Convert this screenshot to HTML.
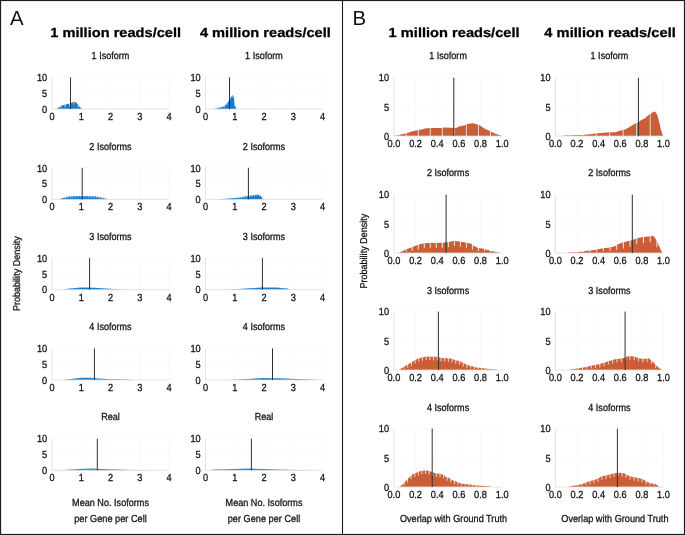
<!DOCTYPE html><html><head><meta charset="utf-8"><style>html,body{margin:0;padding:0;background:#fff;}svg{display:block;will-change:transform;}text{font-family:"Liberation Sans",sans-serif;}</style></head><body>
<svg width="685" height="535" viewBox="0 0 685 535">
<rect x="0" y="0" width="685" height="535" fill="#fff"/>
<line x1="81.25" y1="77.5" x2="81.25" y2="109.1" stroke="#f7f7f7" stroke-width="0.8"/>
<line x1="110.5" y1="77.5" x2="110.5" y2="109.1" stroke="#f7f7f7" stroke-width="0.8"/>
<line x1="139.75" y1="77.5" x2="139.75" y2="109.1" stroke="#f7f7f7" stroke-width="0.8"/>
<line x1="169" y1="77.5" x2="169" y2="109.1" stroke="#f7f7f7" stroke-width="0.8"/>
<line x1="52" y1="93.3" x2="169" y2="93.3" stroke="#f7f7f7" stroke-width="0.8"/>
<line x1="52" y1="77.5" x2="169" y2="77.5" stroke="#f7f7f7" stroke-width="0.8"/>
<path d="M56.7 109.1 L56.7 109.1 L58.8 107.6 L61.7 105.6 L64 105 L67.5 104.1 L70.1 103.6 L72.2 102.4 L74 101.8 L75.7 102.1 L77.4 104.1 L79.2 106.2 L81.5 108.7 L82.2 109.1 L82.2 109.1 Z" fill="#1479d0"/>
<line x1="60.8" y1="105.92" x2="60.8" y2="107.95" stroke="#fff" stroke-width="1" stroke-opacity="0.6"/>
<line x1="65.2" y1="104.39" x2="65.2" y2="107.34" stroke="#fff" stroke-width="1" stroke-opacity="0.6"/>
<line x1="69.6" y1="103.4" x2="69.6" y2="106.7" stroke="#fff" stroke-width="1" stroke-opacity="0.6"/>
<line x1="74" y1="101.5" x2="74" y2="104.8" stroke="#fff" stroke-width="1" stroke-opacity="0.6"/>
<line x1="78.4" y1="104.97" x2="78.4" y2="107.57" stroke="#fff" stroke-width="1" stroke-opacity="0.6"/>
<line x1="52" y1="77.5" x2="52" y2="109.1" stroke="#e0e0e0" stroke-width="0.9"/>
<line x1="52" y1="109.1" x2="169" y2="109.1" stroke="#e0e0e0" stroke-width="0.9"/>
<line x1="70.5" y1="77.5" x2="70.5" y2="109.1" stroke="#2e2e2e" stroke-width="1.0"/>
<text transform="translate(52 120.1) skewX(0.3) scale(0.9 1)" font-size="10.3" text-anchor="middle" font-weight="normal" fill="#111" stroke="#111" stroke-width="0.28">0</text>
<text transform="translate(81.25 120.1) skewX(0.3) scale(0.9 1)" font-size="10.3" text-anchor="middle" font-weight="normal" fill="#111" stroke="#111" stroke-width="0.28">1</text>
<text transform="translate(110.5 120.1) skewX(0.3) scale(0.9 1)" font-size="10.3" text-anchor="middle" font-weight="normal" fill="#111" stroke="#111" stroke-width="0.28">2</text>
<text transform="translate(139.75 120.1) skewX(0.3) scale(0.9 1)" font-size="10.3" text-anchor="middle" font-weight="normal" fill="#111" stroke="#111" stroke-width="0.28">3</text>
<text transform="translate(169 120.1) skewX(0.3) scale(0.9 1)" font-size="10.3" text-anchor="middle" font-weight="normal" fill="#111" stroke="#111" stroke-width="0.28">4</text>
<text transform="translate(47.2 112.8) skewX(0.3) scale(0.9 1)" font-size="10.3" text-anchor="end" font-weight="normal" fill="#111" stroke="#111" stroke-width="0.28">0</text>
<text transform="translate(47.2 97) skewX(0.3) scale(0.9 1)" font-size="10.3" text-anchor="end" font-weight="normal" fill="#111" stroke="#111" stroke-width="0.28">5</text>
<text transform="translate(47.2 81.2) skewX(0.3) scale(0.9 1)" font-size="10.3" text-anchor="end" font-weight="normal" fill="#111" stroke="#111" stroke-width="0.28">10</text>
<text transform="translate(110.5 59.2) skewX(0.3) scale(0.89 1)" font-size="10.2" text-anchor="middle" font-weight="normal" fill="#111" stroke="#111" stroke-width="0.28">1 Isoform</text>
<line x1="234.75" y1="77.5" x2="234.75" y2="109.1" stroke="#f7f7f7" stroke-width="0.8"/>
<line x1="264" y1="77.5" x2="264" y2="109.1" stroke="#f7f7f7" stroke-width="0.8"/>
<line x1="293.25" y1="77.5" x2="293.25" y2="109.1" stroke="#f7f7f7" stroke-width="0.8"/>
<line x1="322.5" y1="77.5" x2="322.5" y2="109.1" stroke="#f7f7f7" stroke-width="0.8"/>
<line x1="205.5" y1="93.3" x2="322.5" y2="93.3" stroke="#f7f7f7" stroke-width="0.8"/>
<line x1="205.5" y1="77.5" x2="322.5" y2="77.5" stroke="#f7f7f7" stroke-width="0.8"/>
<path d="M212.5 109.1 L212.5 109.1 L216.2 108.4 L220 107.5 L223.7 106.55 L225.9 104.7 L228.2 101.7 L229.7 100.2 L230.8 97.6 L231.9 95.7 L232.7 95.1 L233.8 97.2 L234.5 103.9 L235.6 106.9 L236.8 109.1 L236.8 109.1 Z" fill="#1479d0"/>
<line x1="221.8" y1="106.74" x2="221.8" y2="108.28" stroke="#fff" stroke-width="1" stroke-opacity="0.5"/>
<line x1="224.4" y1="105.66" x2="224.4" y2="107.84" stroke="#fff" stroke-width="1" stroke-opacity="0.5"/>
<line x1="227" y1="102.97" x2="227" y2="105.27" stroke="#fff" stroke-width="1" stroke-opacity="0.5"/>
<line x1="229.6" y1="100" x2="229.6" y2="102.3" stroke="#fff" stroke-width="1" stroke-opacity="0.5"/>
<line x1="232.2" y1="95.18" x2="232.2" y2="97.48" stroke="#fff" stroke-width="1" stroke-opacity="0.5"/>
<line x1="234.8" y1="104.42" x2="234.8" y2="106.72" stroke="#fff" stroke-width="1" stroke-opacity="0.5"/>
<line x1="205.5" y1="77.5" x2="205.5" y2="109.1" stroke="#e0e0e0" stroke-width="0.9"/>
<line x1="205.5" y1="109.1" x2="322.5" y2="109.1" stroke="#e0e0e0" stroke-width="0.9"/>
<line x1="229.5" y1="77.5" x2="229.5" y2="109.1" stroke="#2e2e2e" stroke-width="1.0"/>
<text transform="translate(205.5 120.1) skewX(0.3) scale(0.9 1)" font-size="10.3" text-anchor="middle" font-weight="normal" fill="#111" stroke="#111" stroke-width="0.28">0</text>
<text transform="translate(234.75 120.1) skewX(0.3) scale(0.9 1)" font-size="10.3" text-anchor="middle" font-weight="normal" fill="#111" stroke="#111" stroke-width="0.28">1</text>
<text transform="translate(264 120.1) skewX(0.3) scale(0.9 1)" font-size="10.3" text-anchor="middle" font-weight="normal" fill="#111" stroke="#111" stroke-width="0.28">2</text>
<text transform="translate(293.25 120.1) skewX(0.3) scale(0.9 1)" font-size="10.3" text-anchor="middle" font-weight="normal" fill="#111" stroke="#111" stroke-width="0.28">3</text>
<text transform="translate(322.5 120.1) skewX(0.3) scale(0.9 1)" font-size="10.3" text-anchor="middle" font-weight="normal" fill="#111" stroke="#111" stroke-width="0.28">4</text>
<text transform="translate(200.7 112.8) skewX(0.3) scale(0.9 1)" font-size="10.3" text-anchor="end" font-weight="normal" fill="#111" stroke="#111" stroke-width="0.28">0</text>
<text transform="translate(200.7 97) skewX(0.3) scale(0.9 1)" font-size="10.3" text-anchor="end" font-weight="normal" fill="#111" stroke="#111" stroke-width="0.28">5</text>
<text transform="translate(200.7 81.2) skewX(0.3) scale(0.9 1)" font-size="10.3" text-anchor="end" font-weight="normal" fill="#111" stroke="#111" stroke-width="0.28">10</text>
<text transform="translate(264 59.2) skewX(0.3) scale(0.89 1)" font-size="10.2" text-anchor="middle" font-weight="normal" fill="#111" stroke="#111" stroke-width="0.28">1 Isoform</text>
<line x1="81.25" y1="167.8" x2="81.25" y2="199.4" stroke="#f7f7f7" stroke-width="0.8"/>
<line x1="110.5" y1="167.8" x2="110.5" y2="199.4" stroke="#f7f7f7" stroke-width="0.8"/>
<line x1="139.75" y1="167.8" x2="139.75" y2="199.4" stroke="#f7f7f7" stroke-width="0.8"/>
<line x1="169" y1="167.8" x2="169" y2="199.4" stroke="#f7f7f7" stroke-width="0.8"/>
<line x1="52" y1="183.6" x2="169" y2="183.6" stroke="#f7f7f7" stroke-width="0.8"/>
<line x1="52" y1="167.8" x2="169" y2="167.8" stroke="#f7f7f7" stroke-width="0.8"/>
<path d="M58.7 199.4 L58.7 199.4 L63.3 197.9 L68.4 196.4 L75 196 L85 195.9 L95 196.3 L100 197.2 L105 198.4 L110 199.4 L110 199.4 Z" fill="#1479d0"/>
<line x1="65.2" y1="197.04" x2="65.2" y2="198.58" stroke="#fff" stroke-width="1" stroke-opacity="0.6"/>
<line x1="67.8" y1="196.28" x2="67.8" y2="198.18" stroke="#fff" stroke-width="1" stroke-opacity="0.6"/>
<line x1="70.4" y1="195.98" x2="70.4" y2="197.88" stroke="#fff" stroke-width="1" stroke-opacity="0.6"/>
<line x1="73" y1="195.82" x2="73" y2="197.72" stroke="#fff" stroke-width="1" stroke-opacity="0.6"/>
<line x1="75.6" y1="195.69" x2="75.6" y2="197.59" stroke="#fff" stroke-width="1" stroke-opacity="0.6"/>
<line x1="78.2" y1="195.67" x2="78.2" y2="197.57" stroke="#fff" stroke-width="1" stroke-opacity="0.6"/>
<line x1="80.8" y1="195.64" x2="80.8" y2="197.54" stroke="#fff" stroke-width="1" stroke-opacity="0.6"/>
<line x1="83.4" y1="195.62" x2="83.4" y2="197.52" stroke="#fff" stroke-width="1" stroke-opacity="0.6"/>
<line x1="86" y1="195.64" x2="86" y2="197.54" stroke="#fff" stroke-width="1" stroke-opacity="0.6"/>
<line x1="88.6" y1="195.74" x2="88.6" y2="197.64" stroke="#fff" stroke-width="1" stroke-opacity="0.6"/>
<line x1="91.2" y1="195.85" x2="91.2" y2="197.75" stroke="#fff" stroke-width="1" stroke-opacity="0.6"/>
<line x1="93.8" y1="195.95" x2="93.8" y2="197.85" stroke="#fff" stroke-width="1" stroke-opacity="0.6"/>
<line x1="96.4" y1="196.25" x2="96.4" y2="198.15" stroke="#fff" stroke-width="1" stroke-opacity="0.6"/>
<line x1="99" y1="196.72" x2="99" y2="198.45" stroke="#fff" stroke-width="1" stroke-opacity="0.6"/>
<line x1="101.6" y1="197.28" x2="101.6" y2="198.67" stroke="#fff" stroke-width="1" stroke-opacity="0.6"/>
<line x1="52" y1="167.8" x2="52" y2="199.4" stroke="#e0e0e0" stroke-width="0.9"/>
<line x1="52" y1="199.4" x2="169" y2="199.4" stroke="#e0e0e0" stroke-width="0.9"/>
<line x1="82.2" y1="167.8" x2="82.2" y2="199.4" stroke="#2e2e2e" stroke-width="1.0"/>
<text transform="translate(52 210.4) skewX(0.3) scale(0.9 1)" font-size="10.3" text-anchor="middle" font-weight="normal" fill="#111" stroke="#111" stroke-width="0.28">0</text>
<text transform="translate(81.25 210.4) skewX(0.3) scale(0.9 1)" font-size="10.3" text-anchor="middle" font-weight="normal" fill="#111" stroke="#111" stroke-width="0.28">1</text>
<text transform="translate(110.5 210.4) skewX(0.3) scale(0.9 1)" font-size="10.3" text-anchor="middle" font-weight="normal" fill="#111" stroke="#111" stroke-width="0.28">2</text>
<text transform="translate(139.75 210.4) skewX(0.3) scale(0.9 1)" font-size="10.3" text-anchor="middle" font-weight="normal" fill="#111" stroke="#111" stroke-width="0.28">3</text>
<text transform="translate(169 210.4) skewX(0.3) scale(0.9 1)" font-size="10.3" text-anchor="middle" font-weight="normal" fill="#111" stroke="#111" stroke-width="0.28">4</text>
<text transform="translate(47.2 203.1) skewX(0.3) scale(0.9 1)" font-size="10.3" text-anchor="end" font-weight="normal" fill="#111" stroke="#111" stroke-width="0.28">0</text>
<text transform="translate(47.2 187.3) skewX(0.3) scale(0.9 1)" font-size="10.3" text-anchor="end" font-weight="normal" fill="#111" stroke="#111" stroke-width="0.28">5</text>
<text transform="translate(47.2 171.5) skewX(0.3) scale(0.9 1)" font-size="10.3" text-anchor="end" font-weight="normal" fill="#111" stroke="#111" stroke-width="0.28">10</text>
<text transform="translate(110.5 149.5) skewX(0.3) scale(0.89 1)" font-size="10.2" text-anchor="middle" font-weight="normal" fill="#111" stroke="#111" stroke-width="0.28">2 Isoforms</text>
<line x1="234.75" y1="167.8" x2="234.75" y2="199.4" stroke="#f7f7f7" stroke-width="0.8"/>
<line x1="264" y1="167.8" x2="264" y2="199.4" stroke="#f7f7f7" stroke-width="0.8"/>
<line x1="293.25" y1="167.8" x2="293.25" y2="199.4" stroke="#f7f7f7" stroke-width="0.8"/>
<line x1="322.5" y1="167.8" x2="322.5" y2="199.4" stroke="#f7f7f7" stroke-width="0.8"/>
<line x1="205.5" y1="183.6" x2="322.5" y2="183.6" stroke="#f7f7f7" stroke-width="0.8"/>
<line x1="205.5" y1="167.8" x2="322.5" y2="167.8" stroke="#f7f7f7" stroke-width="0.8"/>
<path d="M216.2 199.4 L216.2 199.4 L225.4 198.8 L235.7 198.1 L240.8 197.2 L245.9 196.2 L251 195.4 L256.1 194.7 L258.1 194.4 L260.5 195.4 L263.2 199.4 L263.2 199.4 Z" fill="#1479d0"/>
<line x1="238.8" y1="197.25" x2="238.8" y2="198.66" stroke="#fff" stroke-width="1" stroke-opacity="0.6"/>
<line x1="241.4" y1="196.78" x2="241.4" y2="198.47" stroke="#fff" stroke-width="1" stroke-opacity="0.6"/>
<line x1="244" y1="196.27" x2="244" y2="198.17" stroke="#fff" stroke-width="1" stroke-opacity="0.6"/>
<line x1="246.6" y1="195.79" x2="246.6" y2="197.69" stroke="#fff" stroke-width="1" stroke-opacity="0.6"/>
<line x1="249.2" y1="195.38" x2="249.2" y2="197.28" stroke="#fff" stroke-width="1" stroke-opacity="0.6"/>
<line x1="251.8" y1="194.99" x2="251.8" y2="196.89" stroke="#fff" stroke-width="1" stroke-opacity="0.6"/>
<line x1="254.4" y1="194.63" x2="254.4" y2="196.53" stroke="#fff" stroke-width="1" stroke-opacity="0.6"/>
<line x1="257" y1="194.27" x2="257" y2="196.17" stroke="#fff" stroke-width="1" stroke-opacity="0.6"/>
<line x1="259.6" y1="194.72" x2="259.6" y2="196.62" stroke="#fff" stroke-width="1" stroke-opacity="0.6"/>
<line x1="205.5" y1="167.8" x2="205.5" y2="199.4" stroke="#e0e0e0" stroke-width="0.9"/>
<line x1="205.5" y1="199.4" x2="322.5" y2="199.4" stroke="#e0e0e0" stroke-width="0.9"/>
<line x1="248.4" y1="167.8" x2="248.4" y2="199.4" stroke="#2e2e2e" stroke-width="1.0"/>
<text transform="translate(205.5 210.4) skewX(0.3) scale(0.9 1)" font-size="10.3" text-anchor="middle" font-weight="normal" fill="#111" stroke="#111" stroke-width="0.28">0</text>
<text transform="translate(234.75 210.4) skewX(0.3) scale(0.9 1)" font-size="10.3" text-anchor="middle" font-weight="normal" fill="#111" stroke="#111" stroke-width="0.28">1</text>
<text transform="translate(264 210.4) skewX(0.3) scale(0.9 1)" font-size="10.3" text-anchor="middle" font-weight="normal" fill="#111" stroke="#111" stroke-width="0.28">2</text>
<text transform="translate(293.25 210.4) skewX(0.3) scale(0.9 1)" font-size="10.3" text-anchor="middle" font-weight="normal" fill="#111" stroke="#111" stroke-width="0.28">3</text>
<text transform="translate(322.5 210.4) skewX(0.3) scale(0.9 1)" font-size="10.3" text-anchor="middle" font-weight="normal" fill="#111" stroke="#111" stroke-width="0.28">4</text>
<text transform="translate(200.7 203.1) skewX(0.3) scale(0.9 1)" font-size="10.3" text-anchor="end" font-weight="normal" fill="#111" stroke="#111" stroke-width="0.28">0</text>
<text transform="translate(200.7 187.3) skewX(0.3) scale(0.9 1)" font-size="10.3" text-anchor="end" font-weight="normal" fill="#111" stroke="#111" stroke-width="0.28">5</text>
<text transform="translate(200.7 171.5) skewX(0.3) scale(0.9 1)" font-size="10.3" text-anchor="end" font-weight="normal" fill="#111" stroke="#111" stroke-width="0.28">10</text>
<text transform="translate(264 149.5) skewX(0.3) scale(0.89 1)" font-size="10.2" text-anchor="middle" font-weight="normal" fill="#111" stroke="#111" stroke-width="0.28">2 Isoforms</text>
<line x1="81.25" y1="258.1" x2="81.25" y2="289.7" stroke="#f7f7f7" stroke-width="0.8"/>
<line x1="110.5" y1="258.1" x2="110.5" y2="289.7" stroke="#f7f7f7" stroke-width="0.8"/>
<line x1="139.75" y1="258.1" x2="139.75" y2="289.7" stroke="#f7f7f7" stroke-width="0.8"/>
<line x1="169" y1="258.1" x2="169" y2="289.7" stroke="#f7f7f7" stroke-width="0.8"/>
<line x1="52" y1="273.9" x2="169" y2="273.9" stroke="#f7f7f7" stroke-width="0.8"/>
<line x1="52" y1="258.1" x2="169" y2="258.1" stroke="#f7f7f7" stroke-width="0.8"/>
<path d="M61.9 289.7 L61.9 289.7 L69.5 288.4 L75.4 287.9 L81.2 287.4 L89.4 287.4 L98.7 287.9 L104.6 288.4 L110.4 288.8 L117.4 289.2 L126.8 289.7 L126.8 289.7 Z" fill="#1479d0"/>
<line x1="72.4" y1="287.85" x2="72.4" y2="288.95" stroke="#fff" stroke-width="1" stroke-opacity="0.25"/>
<line x1="75" y1="287.63" x2="75" y2="288.73" stroke="#fff" stroke-width="1" stroke-opacity="0.25"/>
<line x1="77.6" y1="287.41" x2="77.6" y2="288.51" stroke="#fff" stroke-width="1" stroke-opacity="0.25"/>
<line x1="80.2" y1="287.19" x2="80.2" y2="288.29" stroke="#fff" stroke-width="1" stroke-opacity="0.25"/>
<line x1="82.8" y1="287.1" x2="82.8" y2="288.2" stroke="#fff" stroke-width="1" stroke-opacity="0.25"/>
<line x1="85.4" y1="287.1" x2="85.4" y2="288.2" stroke="#fff" stroke-width="1" stroke-opacity="0.25"/>
<line x1="88" y1="287.1" x2="88" y2="288.2" stroke="#fff" stroke-width="1" stroke-opacity="0.25"/>
<line x1="90.6" y1="287.16" x2="90.6" y2="288.26" stroke="#fff" stroke-width="1" stroke-opacity="0.25"/>
<line x1="93.2" y1="287.3" x2="93.2" y2="288.4" stroke="#fff" stroke-width="1" stroke-opacity="0.25"/>
<line x1="95.8" y1="287.44" x2="95.8" y2="288.54" stroke="#fff" stroke-width="1" stroke-opacity="0.25"/>
<line x1="98.4" y1="287.58" x2="98.4" y2="288.68" stroke="#fff" stroke-width="1" stroke-opacity="0.25"/>
<line x1="101" y1="287.79" x2="101" y2="288.89" stroke="#fff" stroke-width="1" stroke-opacity="0.25"/>
<line x1="52" y1="258.1" x2="52" y2="289.7" stroke="#e0e0e0" stroke-width="0.9"/>
<line x1="52" y1="289.7" x2="169" y2="289.7" stroke="#e0e0e0" stroke-width="0.9"/>
<line x1="89.6" y1="258.1" x2="89.6" y2="289.7" stroke="#2e2e2e" stroke-width="1.0"/>
<text transform="translate(52 300.7) skewX(0.3) scale(0.9 1)" font-size="10.3" text-anchor="middle" font-weight="normal" fill="#111" stroke="#111" stroke-width="0.28">0</text>
<text transform="translate(81.25 300.7) skewX(0.3) scale(0.9 1)" font-size="10.3" text-anchor="middle" font-weight="normal" fill="#111" stroke="#111" stroke-width="0.28">1</text>
<text transform="translate(110.5 300.7) skewX(0.3) scale(0.9 1)" font-size="10.3" text-anchor="middle" font-weight="normal" fill="#111" stroke="#111" stroke-width="0.28">2</text>
<text transform="translate(139.75 300.7) skewX(0.3) scale(0.9 1)" font-size="10.3" text-anchor="middle" font-weight="normal" fill="#111" stroke="#111" stroke-width="0.28">3</text>
<text transform="translate(169 300.7) skewX(0.3) scale(0.9 1)" font-size="10.3" text-anchor="middle" font-weight="normal" fill="#111" stroke="#111" stroke-width="0.28">4</text>
<text transform="translate(47.2 293.4) skewX(0.3) scale(0.9 1)" font-size="10.3" text-anchor="end" font-weight="normal" fill="#111" stroke="#111" stroke-width="0.28">0</text>
<text transform="translate(47.2 277.6) skewX(0.3) scale(0.9 1)" font-size="10.3" text-anchor="end" font-weight="normal" fill="#111" stroke="#111" stroke-width="0.28">5</text>
<text transform="translate(47.2 261.8) skewX(0.3) scale(0.9 1)" font-size="10.3" text-anchor="end" font-weight="normal" fill="#111" stroke="#111" stroke-width="0.28">10</text>
<text transform="translate(110.5 239.8) skewX(0.3) scale(0.89 1)" font-size="10.2" text-anchor="middle" font-weight="normal" fill="#111" stroke="#111" stroke-width="0.28">3 Isoforms</text>
<line x1="234.75" y1="258.1" x2="234.75" y2="289.7" stroke="#f7f7f7" stroke-width="0.8"/>
<line x1="264" y1="258.1" x2="264" y2="289.7" stroke="#f7f7f7" stroke-width="0.8"/>
<line x1="293.25" y1="258.1" x2="293.25" y2="289.7" stroke="#f7f7f7" stroke-width="0.8"/>
<line x1="322.5" y1="258.1" x2="322.5" y2="289.7" stroke="#f7f7f7" stroke-width="0.8"/>
<line x1="205.5" y1="273.9" x2="322.5" y2="273.9" stroke="#f7f7f7" stroke-width="0.8"/>
<line x1="205.5" y1="258.1" x2="322.5" y2="258.1" stroke="#f7f7f7" stroke-width="0.8"/>
<path d="M225.5 289.7 L225.5 289.7 L238.4 288.9 L250 288.2 L261.7 287.6 L267.6 287.5 L276.9 287.6 L283.9 288.2 L287.4 288.6 L289.8 289.7 L289.8 289.7 Z" fill="#1479d0"/>
<line x1="252" y1="287.8" x2="252" y2="288.9" stroke="#fff" stroke-width="1" stroke-opacity="0.25"/>
<line x1="254.6" y1="287.66" x2="254.6" y2="288.76" stroke="#fff" stroke-width="1" stroke-opacity="0.25"/>
<line x1="257.2" y1="287.53" x2="257.2" y2="288.63" stroke="#fff" stroke-width="1" stroke-opacity="0.25"/>
<line x1="259.8" y1="287.4" x2="259.8" y2="288.5" stroke="#fff" stroke-width="1" stroke-opacity="0.25"/>
<line x1="262.4" y1="287.29" x2="262.4" y2="288.39" stroke="#fff" stroke-width="1" stroke-opacity="0.25"/>
<line x1="265" y1="287.24" x2="265" y2="288.34" stroke="#fff" stroke-width="1" stroke-opacity="0.25"/>
<line x1="267.6" y1="287.2" x2="267.6" y2="288.3" stroke="#fff" stroke-width="1" stroke-opacity="0.25"/>
<line x1="270.2" y1="287.23" x2="270.2" y2="288.33" stroke="#fff" stroke-width="1" stroke-opacity="0.25"/>
<line x1="272.8" y1="287.26" x2="272.8" y2="288.36" stroke="#fff" stroke-width="1" stroke-opacity="0.25"/>
<line x1="275.4" y1="287.28" x2="275.4" y2="288.38" stroke="#fff" stroke-width="1" stroke-opacity="0.25"/>
<line x1="278" y1="287.39" x2="278" y2="288.49" stroke="#fff" stroke-width="1" stroke-opacity="0.25"/>
<line x1="280.6" y1="287.62" x2="280.6" y2="288.72" stroke="#fff" stroke-width="1" stroke-opacity="0.25"/>
<line x1="283.2" y1="287.84" x2="283.2" y2="288.94" stroke="#fff" stroke-width="1" stroke-opacity="0.25"/>
<line x1="205.5" y1="258.1" x2="205.5" y2="289.7" stroke="#e0e0e0" stroke-width="0.9"/>
<line x1="205.5" y1="289.7" x2="322.5" y2="289.7" stroke="#e0e0e0" stroke-width="0.9"/>
<line x1="262.4" y1="258.1" x2="262.4" y2="289.7" stroke="#2e2e2e" stroke-width="1.0"/>
<text transform="translate(205.5 300.7) skewX(0.3) scale(0.9 1)" font-size="10.3" text-anchor="middle" font-weight="normal" fill="#111" stroke="#111" stroke-width="0.28">0</text>
<text transform="translate(234.75 300.7) skewX(0.3) scale(0.9 1)" font-size="10.3" text-anchor="middle" font-weight="normal" fill="#111" stroke="#111" stroke-width="0.28">1</text>
<text transform="translate(264 300.7) skewX(0.3) scale(0.9 1)" font-size="10.3" text-anchor="middle" font-weight="normal" fill="#111" stroke="#111" stroke-width="0.28">2</text>
<text transform="translate(293.25 300.7) skewX(0.3) scale(0.9 1)" font-size="10.3" text-anchor="middle" font-weight="normal" fill="#111" stroke="#111" stroke-width="0.28">3</text>
<text transform="translate(322.5 300.7) skewX(0.3) scale(0.9 1)" font-size="10.3" text-anchor="middle" font-weight="normal" fill="#111" stroke="#111" stroke-width="0.28">4</text>
<text transform="translate(200.7 293.4) skewX(0.3) scale(0.9 1)" font-size="10.3" text-anchor="end" font-weight="normal" fill="#111" stroke="#111" stroke-width="0.28">0</text>
<text transform="translate(200.7 277.6) skewX(0.3) scale(0.9 1)" font-size="10.3" text-anchor="end" font-weight="normal" fill="#111" stroke="#111" stroke-width="0.28">5</text>
<text transform="translate(200.7 261.8) skewX(0.3) scale(0.9 1)" font-size="10.3" text-anchor="end" font-weight="normal" fill="#111" stroke="#111" stroke-width="0.28">10</text>
<text transform="translate(264 239.8) skewX(0.3) scale(0.89 1)" font-size="10.2" text-anchor="middle" font-weight="normal" fill="#111" stroke="#111" stroke-width="0.28">3 Isoforms</text>
<line x1="81.25" y1="348.4" x2="81.25" y2="380" stroke="#f7f7f7" stroke-width="0.8"/>
<line x1="110.5" y1="348.4" x2="110.5" y2="380" stroke="#f7f7f7" stroke-width="0.8"/>
<line x1="139.75" y1="348.4" x2="139.75" y2="380" stroke="#f7f7f7" stroke-width="0.8"/>
<line x1="169" y1="348.4" x2="169" y2="380" stroke="#f7f7f7" stroke-width="0.8"/>
<line x1="52" y1="364.2" x2="169" y2="364.2" stroke="#f7f7f7" stroke-width="0.8"/>
<line x1="52" y1="348.4" x2="169" y2="348.4" stroke="#f7f7f7" stroke-width="0.8"/>
<path d="M63 380 L63 380 L71 378.9 L81.2 377.7 L90 377.7 L98.7 378.4 L110.4 379.2 L125 379.6 L133.7 380 L133.7 380 Z" fill="#1479d0"/>
<line x1="75.4" y1="378.08" x2="75.4" y2="379.18" stroke="#fff" stroke-width="1" stroke-opacity="0.25"/>
<line x1="78" y1="377.78" x2="78" y2="378.88" stroke="#fff" stroke-width="1" stroke-opacity="0.25"/>
<line x1="80.6" y1="377.47" x2="80.6" y2="378.57" stroke="#fff" stroke-width="1" stroke-opacity="0.25"/>
<line x1="83.2" y1="377.4" x2="83.2" y2="378.5" stroke="#fff" stroke-width="1" stroke-opacity="0.25"/>
<line x1="85.8" y1="377.4" x2="85.8" y2="378.5" stroke="#fff" stroke-width="1" stroke-opacity="0.25"/>
<line x1="88.4" y1="377.4" x2="88.4" y2="378.5" stroke="#fff" stroke-width="1" stroke-opacity="0.25"/>
<line x1="91" y1="377.48" x2="91" y2="378.58" stroke="#fff" stroke-width="1" stroke-opacity="0.25"/>
<line x1="93.6" y1="377.69" x2="93.6" y2="378.79" stroke="#fff" stroke-width="1" stroke-opacity="0.25"/>
<line x1="96.2" y1="377.9" x2="96.2" y2="379" stroke="#fff" stroke-width="1" stroke-opacity="0.25"/>
<line x1="98.8" y1="378.11" x2="98.8" y2="379.21" stroke="#fff" stroke-width="1" stroke-opacity="0.25"/>
<line x1="52" y1="348.4" x2="52" y2="380" stroke="#e0e0e0" stroke-width="0.9"/>
<line x1="52" y1="380" x2="169" y2="380" stroke="#e0e0e0" stroke-width="0.9"/>
<line x1="94.4" y1="348.4" x2="94.4" y2="380" stroke="#2e2e2e" stroke-width="1.0"/>
<text transform="translate(52 391) skewX(0.3) scale(0.9 1)" font-size="10.3" text-anchor="middle" font-weight="normal" fill="#111" stroke="#111" stroke-width="0.28">0</text>
<text transform="translate(81.25 391) skewX(0.3) scale(0.9 1)" font-size="10.3" text-anchor="middle" font-weight="normal" fill="#111" stroke="#111" stroke-width="0.28">1</text>
<text transform="translate(110.5 391) skewX(0.3) scale(0.9 1)" font-size="10.3" text-anchor="middle" font-weight="normal" fill="#111" stroke="#111" stroke-width="0.28">2</text>
<text transform="translate(139.75 391) skewX(0.3) scale(0.9 1)" font-size="10.3" text-anchor="middle" font-weight="normal" fill="#111" stroke="#111" stroke-width="0.28">3</text>
<text transform="translate(169 391) skewX(0.3) scale(0.9 1)" font-size="10.3" text-anchor="middle" font-weight="normal" fill="#111" stroke="#111" stroke-width="0.28">4</text>
<text transform="translate(47.2 383.7) skewX(0.3) scale(0.9 1)" font-size="10.3" text-anchor="end" font-weight="normal" fill="#111" stroke="#111" stroke-width="0.28">0</text>
<text transform="translate(47.2 367.9) skewX(0.3) scale(0.9 1)" font-size="10.3" text-anchor="end" font-weight="normal" fill="#111" stroke="#111" stroke-width="0.28">5</text>
<text transform="translate(47.2 352.1) skewX(0.3) scale(0.9 1)" font-size="10.3" text-anchor="end" font-weight="normal" fill="#111" stroke="#111" stroke-width="0.28">10</text>
<text transform="translate(110.5 330.1) skewX(0.3) scale(0.89 1)" font-size="10.2" text-anchor="middle" font-weight="normal" fill="#111" stroke="#111" stroke-width="0.28">4 Isoforms</text>
<line x1="234.75" y1="348.4" x2="234.75" y2="380" stroke="#f7f7f7" stroke-width="0.8"/>
<line x1="264" y1="348.4" x2="264" y2="380" stroke="#f7f7f7" stroke-width="0.8"/>
<line x1="293.25" y1="348.4" x2="293.25" y2="380" stroke="#f7f7f7" stroke-width="0.8"/>
<line x1="322.5" y1="348.4" x2="322.5" y2="380" stroke="#f7f7f7" stroke-width="0.8"/>
<line x1="205.5" y1="364.2" x2="322.5" y2="364.2" stroke="#f7f7f7" stroke-width="0.8"/>
<line x1="205.5" y1="348.4" x2="322.5" y2="348.4" stroke="#f7f7f7" stroke-width="0.8"/>
<path d="M227.8 380 L227.8 380 L247.1 378.9 L263.2 378.1 L279.2 378.3 L295.3 378.9 L311.3 379.6 L317.7 380 L317.7 380 Z" fill="#1479d0"/>
<line x1="257.2" y1="378.1" x2="257.2" y2="379.2" stroke="#fff" stroke-width="1" stroke-opacity="0.25"/>
<line x1="259.8" y1="377.97" x2="259.8" y2="379.07" stroke="#fff" stroke-width="1" stroke-opacity="0.25"/>
<line x1="262.4" y1="377.84" x2="262.4" y2="378.94" stroke="#fff" stroke-width="1" stroke-opacity="0.25"/>
<line x1="265" y1="377.82" x2="265" y2="378.92" stroke="#fff" stroke-width="1" stroke-opacity="0.25"/>
<line x1="267.6" y1="377.86" x2="267.6" y2="378.96" stroke="#fff" stroke-width="1" stroke-opacity="0.25"/>
<line x1="270.2" y1="377.89" x2="270.2" y2="378.99" stroke="#fff" stroke-width="1" stroke-opacity="0.25"/>
<line x1="272.8" y1="377.92" x2="272.8" y2="379.02" stroke="#fff" stroke-width="1" stroke-opacity="0.25"/>
<line x1="275.4" y1="377.95" x2="275.4" y2="379.05" stroke="#fff" stroke-width="1" stroke-opacity="0.25"/>
<line x1="278" y1="377.99" x2="278" y2="379.09" stroke="#fff" stroke-width="1" stroke-opacity="0.25"/>
<line x1="280.6" y1="378.05" x2="280.6" y2="379.15" stroke="#fff" stroke-width="1" stroke-opacity="0.25"/>
<line x1="283.2" y1="378.15" x2="283.2" y2="379.25" stroke="#fff" stroke-width="1" stroke-opacity="0.25"/>
<line x1="205.5" y1="348.4" x2="205.5" y2="380" stroke="#e0e0e0" stroke-width="0.9"/>
<line x1="205.5" y1="380" x2="322.5" y2="380" stroke="#e0e0e0" stroke-width="0.9"/>
<line x1="272.5" y1="348.4" x2="272.5" y2="380" stroke="#2e2e2e" stroke-width="1.0"/>
<text transform="translate(205.5 391) skewX(0.3) scale(0.9 1)" font-size="10.3" text-anchor="middle" font-weight="normal" fill="#111" stroke="#111" stroke-width="0.28">0</text>
<text transform="translate(234.75 391) skewX(0.3) scale(0.9 1)" font-size="10.3" text-anchor="middle" font-weight="normal" fill="#111" stroke="#111" stroke-width="0.28">1</text>
<text transform="translate(264 391) skewX(0.3) scale(0.9 1)" font-size="10.3" text-anchor="middle" font-weight="normal" fill="#111" stroke="#111" stroke-width="0.28">2</text>
<text transform="translate(293.25 391) skewX(0.3) scale(0.9 1)" font-size="10.3" text-anchor="middle" font-weight="normal" fill="#111" stroke="#111" stroke-width="0.28">3</text>
<text transform="translate(322.5 391) skewX(0.3) scale(0.9 1)" font-size="10.3" text-anchor="middle" font-weight="normal" fill="#111" stroke="#111" stroke-width="0.28">4</text>
<text transform="translate(200.7 383.7) skewX(0.3) scale(0.9 1)" font-size="10.3" text-anchor="end" font-weight="normal" fill="#111" stroke="#111" stroke-width="0.28">0</text>
<text transform="translate(200.7 367.9) skewX(0.3) scale(0.9 1)" font-size="10.3" text-anchor="end" font-weight="normal" fill="#111" stroke="#111" stroke-width="0.28">5</text>
<text transform="translate(200.7 352.1) skewX(0.3) scale(0.9 1)" font-size="10.3" text-anchor="end" font-weight="normal" fill="#111" stroke="#111" stroke-width="0.28">10</text>
<text transform="translate(264 330.1) skewX(0.3) scale(0.89 1)" font-size="10.2" text-anchor="middle" font-weight="normal" fill="#111" stroke="#111" stroke-width="0.28">4 Isoforms</text>
<line x1="81.25" y1="438.7" x2="81.25" y2="470.3" stroke="#f7f7f7" stroke-width="0.8"/>
<line x1="110.5" y1="438.7" x2="110.5" y2="470.3" stroke="#f7f7f7" stroke-width="0.8"/>
<line x1="139.75" y1="438.7" x2="139.75" y2="470.3" stroke="#f7f7f7" stroke-width="0.8"/>
<line x1="169" y1="438.7" x2="169" y2="470.3" stroke="#f7f7f7" stroke-width="0.8"/>
<line x1="52" y1="454.5" x2="169" y2="454.5" stroke="#f7f7f7" stroke-width="0.8"/>
<line x1="52" y1="438.7" x2="169" y2="438.7" stroke="#f7f7f7" stroke-width="0.8"/>
<path d="M58.4 470.3 L58.4 470.3 L68 469.7 L79.3 468.9 L92.1 468.6 L100.2 468.9 L116.2 469.6 L132.3 469.9 L156.3 470.3 L156.3 470.3 Z" fill="#1479d0"/>
<line x1="86" y1="468.44" x2="86" y2="469.54" stroke="#fff" stroke-width="1" stroke-opacity="0.2"/>
<line x1="88.6" y1="468.38" x2="88.6" y2="469.48" stroke="#fff" stroke-width="1" stroke-opacity="0.2"/>
<line x1="91.2" y1="468.32" x2="91.2" y2="469.42" stroke="#fff" stroke-width="1" stroke-opacity="0.2"/>
<line x1="93.8" y1="468.36" x2="93.8" y2="469.46" stroke="#fff" stroke-width="1" stroke-opacity="0.2"/>
<line x1="96.4" y1="468.46" x2="96.4" y2="469.56" stroke="#fff" stroke-width="1" stroke-opacity="0.2"/>
<line x1="52" y1="438.7" x2="52" y2="470.3" stroke="#e0e0e0" stroke-width="0.9"/>
<line x1="52" y1="470.3" x2="169" y2="470.3" stroke="#e0e0e0" stroke-width="0.9"/>
<line x1="97.3" y1="438.7" x2="97.3" y2="470.3" stroke="#2e2e2e" stroke-width="1.0"/>
<text transform="translate(52 481.3) skewX(0.3) scale(0.9 1)" font-size="10.3" text-anchor="middle" font-weight="normal" fill="#111" stroke="#111" stroke-width="0.28">0</text>
<text transform="translate(81.25 481.3) skewX(0.3) scale(0.9 1)" font-size="10.3" text-anchor="middle" font-weight="normal" fill="#111" stroke="#111" stroke-width="0.28">1</text>
<text transform="translate(110.5 481.3) skewX(0.3) scale(0.9 1)" font-size="10.3" text-anchor="middle" font-weight="normal" fill="#111" stroke="#111" stroke-width="0.28">2</text>
<text transform="translate(139.75 481.3) skewX(0.3) scale(0.9 1)" font-size="10.3" text-anchor="middle" font-weight="normal" fill="#111" stroke="#111" stroke-width="0.28">3</text>
<text transform="translate(169 481.3) skewX(0.3) scale(0.9 1)" font-size="10.3" text-anchor="middle" font-weight="normal" fill="#111" stroke="#111" stroke-width="0.28">4</text>
<text transform="translate(47.2 474) skewX(0.3) scale(0.9 1)" font-size="10.3" text-anchor="end" font-weight="normal" fill="#111" stroke="#111" stroke-width="0.28">0</text>
<text transform="translate(47.2 458.2) skewX(0.3) scale(0.9 1)" font-size="10.3" text-anchor="end" font-weight="normal" fill="#111" stroke="#111" stroke-width="0.28">5</text>
<text transform="translate(47.2 442.4) skewX(0.3) scale(0.9 1)" font-size="10.3" text-anchor="end" font-weight="normal" fill="#111" stroke="#111" stroke-width="0.28">10</text>
<text transform="translate(110.5 420.4) skewX(0.3) scale(0.89 1)" font-size="10.2" text-anchor="middle" font-weight="normal" fill="#111" stroke="#111" stroke-width="0.28">Real</text>
<line x1="234.75" y1="438.7" x2="234.75" y2="470.3" stroke="#f7f7f7" stroke-width="0.8"/>
<line x1="264" y1="438.7" x2="264" y2="470.3" stroke="#f7f7f7" stroke-width="0.8"/>
<line x1="293.25" y1="438.7" x2="293.25" y2="470.3" stroke="#f7f7f7" stroke-width="0.8"/>
<line x1="322.5" y1="438.7" x2="322.5" y2="470.3" stroke="#f7f7f7" stroke-width="0.8"/>
<line x1="205.5" y1="454.5" x2="322.5" y2="454.5" stroke="#f7f7f7" stroke-width="0.8"/>
<line x1="205.5" y1="438.7" x2="322.5" y2="438.7" stroke="#f7f7f7" stroke-width="0.8"/>
<path d="M207.6 470.3 L207.6 470.3 L215.5 469.5 L227.8 469.2 L240 468.7 L250.5 468.5 L262.8 469 L275 469.5 L296 469.9 L318.8 470.3 L318.8 470.3 Z" fill="#1479d0"/>
<line x1="237.6" y1="468.5" x2="237.6" y2="469.6" stroke="#fff" stroke-width="1" stroke-opacity="0.2"/>
<line x1="240.2" y1="468.4" x2="240.2" y2="469.5" stroke="#fff" stroke-width="1" stroke-opacity="0.2"/>
<line x1="242.8" y1="468.35" x2="242.8" y2="469.45" stroke="#fff" stroke-width="1" stroke-opacity="0.2"/>
<line x1="245.4" y1="468.3" x2="245.4" y2="469.4" stroke="#fff" stroke-width="1" stroke-opacity="0.2"/>
<line x1="248" y1="468.25" x2="248" y2="469.35" stroke="#fff" stroke-width="1" stroke-opacity="0.2"/>
<line x1="250.6" y1="468.2" x2="250.6" y2="469.3" stroke="#fff" stroke-width="1" stroke-opacity="0.2"/>
<line x1="253.2" y1="468.31" x2="253.2" y2="469.41" stroke="#fff" stroke-width="1" stroke-opacity="0.2"/>
<line x1="255.8" y1="468.42" x2="255.8" y2="469.52" stroke="#fff" stroke-width="1" stroke-opacity="0.2"/>
<line x1="205.5" y1="438.7" x2="205.5" y2="470.3" stroke="#e0e0e0" stroke-width="0.9"/>
<line x1="205.5" y1="470.3" x2="322.5" y2="470.3" stroke="#e0e0e0" stroke-width="0.9"/>
<line x1="251.4" y1="438.7" x2="251.4" y2="470.3" stroke="#2e2e2e" stroke-width="1.0"/>
<text transform="translate(205.5 481.3) skewX(0.3) scale(0.9 1)" font-size="10.3" text-anchor="middle" font-weight="normal" fill="#111" stroke="#111" stroke-width="0.28">0</text>
<text transform="translate(234.75 481.3) skewX(0.3) scale(0.9 1)" font-size="10.3" text-anchor="middle" font-weight="normal" fill="#111" stroke="#111" stroke-width="0.28">1</text>
<text transform="translate(264 481.3) skewX(0.3) scale(0.9 1)" font-size="10.3" text-anchor="middle" font-weight="normal" fill="#111" stroke="#111" stroke-width="0.28">2</text>
<text transform="translate(293.25 481.3) skewX(0.3) scale(0.9 1)" font-size="10.3" text-anchor="middle" font-weight="normal" fill="#111" stroke="#111" stroke-width="0.28">3</text>
<text transform="translate(322.5 481.3) skewX(0.3) scale(0.9 1)" font-size="10.3" text-anchor="middle" font-weight="normal" fill="#111" stroke="#111" stroke-width="0.28">4</text>
<text transform="translate(200.7 474) skewX(0.3) scale(0.9 1)" font-size="10.3" text-anchor="end" font-weight="normal" fill="#111" stroke="#111" stroke-width="0.28">0</text>
<text transform="translate(200.7 458.2) skewX(0.3) scale(0.9 1)" font-size="10.3" text-anchor="end" font-weight="normal" fill="#111" stroke="#111" stroke-width="0.28">5</text>
<text transform="translate(200.7 442.4) skewX(0.3) scale(0.9 1)" font-size="10.3" text-anchor="end" font-weight="normal" fill="#111" stroke="#111" stroke-width="0.28">10</text>
<text transform="translate(264 420.4) skewX(0.3) scale(0.89 1)" font-size="10.2" text-anchor="middle" font-weight="normal" fill="#111" stroke="#111" stroke-width="0.28">Real</text>
<line x1="415.56" y1="77.7" x2="415.56" y2="136.1" stroke="#f7f7f7" stroke-width="0.8"/>
<line x1="437.22" y1="77.7" x2="437.22" y2="136.1" stroke="#f7f7f7" stroke-width="0.8"/>
<line x1="458.88" y1="77.7" x2="458.88" y2="136.1" stroke="#f7f7f7" stroke-width="0.8"/>
<line x1="480.54" y1="77.7" x2="480.54" y2="136.1" stroke="#f7f7f7" stroke-width="0.8"/>
<line x1="502.2" y1="77.7" x2="502.2" y2="136.1" stroke="#f7f7f7" stroke-width="0.8"/>
<line x1="393.9" y1="106.9" x2="502.2" y2="106.9" stroke="#f7f7f7" stroke-width="0.8"/>
<line x1="393.9" y1="77.7" x2="502.2" y2="77.7" stroke="#f7f7f7" stroke-width="0.8"/>
<path d="M395 136.1 L395 135.6 L398.8 135.4 L400.9 134.6 L405.8 133.5 L407.1 132.9 L411.9 131.5 L417.1 130.3 L419.3 130 L425 128.6 L429.4 128 L431.2 128.1 L441.7 128.1 L444.3 127.5 L450 127.7 L456.4 128 L458.1 126.8 L462.5 125.8 L465.6 125.1 L466.9 124 L473 123.3 L477.4 124.4 L479.2 125.1 L484.4 128.4 L489.7 131 L491 131.5 L495.8 134.1 L501 135.6 L501 136.1 Z" fill="#cb5e37"/>
<line x1="406.23" y1="133.3" x2="406.23" y2="136.1" stroke="#fff" stroke-width="0.9" stroke-opacity="0.85"/>
<line x1="418.26" y1="130.14" x2="418.26" y2="136.1" stroke="#fff" stroke-width="0.9" stroke-opacity="0.85"/>
<line x1="430.29" y1="128.05" x2="430.29" y2="136.1" stroke="#fff" stroke-width="0.9" stroke-opacity="0.85"/>
<line x1="442.32" y1="127.96" x2="442.32" y2="136.1" stroke="#fff" stroke-width="0.9" stroke-opacity="0.85"/>
<line x1="454.35" y1="127.9" x2="454.35" y2="136.1" stroke="#fff" stroke-width="0.9" stroke-opacity="0.85"/>
<line x1="466.38" y1="124.44" x2="466.38" y2="136.1" stroke="#fff" stroke-width="0.9" stroke-opacity="0.85"/>
<line x1="478.41" y1="124.79" x2="478.41" y2="136.1" stroke="#fff" stroke-width="0.9" stroke-opacity="0.85"/>
<line x1="490.44" y1="131.28" x2="490.44" y2="136.1" stroke="#fff" stroke-width="0.9" stroke-opacity="0.85"/>
<line x1="393.9" y1="77.7" x2="393.9" y2="136.1" stroke="#e0e0e0" stroke-width="0.9"/>
<line x1="393.9" y1="136.1" x2="502.2" y2="136.1" stroke="#e0e0e0" stroke-width="0.9"/>
<line x1="453.8" y1="77.7" x2="453.8" y2="136.1" stroke="#2e2e2e" stroke-width="1.0"/>
<text transform="translate(393.9 147.1) skewX(0.3) scale(0.9 1)" font-size="10.3" text-anchor="middle" font-weight="normal" fill="#111" stroke="#111" stroke-width="0.28">0.0</text>
<text transform="translate(415.56 147.1) skewX(0.3) scale(0.9 1)" font-size="10.3" text-anchor="middle" font-weight="normal" fill="#111" stroke="#111" stroke-width="0.28">0.2</text>
<text transform="translate(437.22 147.1) skewX(0.3) scale(0.9 1)" font-size="10.3" text-anchor="middle" font-weight="normal" fill="#111" stroke="#111" stroke-width="0.28">0.4</text>
<text transform="translate(458.88 147.1) skewX(0.3) scale(0.9 1)" font-size="10.3" text-anchor="middle" font-weight="normal" fill="#111" stroke="#111" stroke-width="0.28">0.6</text>
<text transform="translate(480.54 147.1) skewX(0.3) scale(0.9 1)" font-size="10.3" text-anchor="middle" font-weight="normal" fill="#111" stroke="#111" stroke-width="0.28">0.8</text>
<text transform="translate(502.2 147.1) skewX(0.3) scale(0.9 1)" font-size="10.3" text-anchor="middle" font-weight="normal" fill="#111" stroke="#111" stroke-width="0.28">1.0</text>
<text transform="translate(389.1 139.8) skewX(0.3) scale(0.9 1)" font-size="10.3" text-anchor="end" font-weight="normal" fill="#111" stroke="#111" stroke-width="0.28">0</text>
<text transform="translate(389.1 110.6) skewX(0.3) scale(0.9 1)" font-size="10.3" text-anchor="end" font-weight="normal" fill="#111" stroke="#111" stroke-width="0.28">5</text>
<text transform="translate(389.1 81.4) skewX(0.3) scale(0.9 1)" font-size="10.3" text-anchor="end" font-weight="normal" fill="#111" stroke="#111" stroke-width="0.28">10</text>
<text transform="translate(448.05 59.2) skewX(0.3) scale(0.89 1)" font-size="10.2" text-anchor="middle" font-weight="normal" fill="#111" stroke="#111" stroke-width="0.28">1 Isoform</text>
<line x1="577.02" y1="77.7" x2="577.02" y2="136.1" stroke="#f7f7f7" stroke-width="0.8"/>
<line x1="598.64" y1="77.7" x2="598.64" y2="136.1" stroke="#f7f7f7" stroke-width="0.8"/>
<line x1="620.26" y1="77.7" x2="620.26" y2="136.1" stroke="#f7f7f7" stroke-width="0.8"/>
<line x1="641.88" y1="77.7" x2="641.88" y2="136.1" stroke="#f7f7f7" stroke-width="0.8"/>
<line x1="663.5" y1="77.7" x2="663.5" y2="136.1" stroke="#f7f7f7" stroke-width="0.8"/>
<line x1="555.4" y1="106.9" x2="663.5" y2="106.9" stroke="#f7f7f7" stroke-width="0.8"/>
<line x1="555.4" y1="77.7" x2="663.5" y2="77.7" stroke="#f7f7f7" stroke-width="0.8"/>
<path d="M563.8 136.1 L563.8 135.6 L572.5 135.3 L581.3 135.1 L590 134.2 L595.3 133.5 L604 132.7 L610 132.2 L615.3 132.2 L618.8 131.1 L622.3 130.2 L624.9 129.6 L627.5 128.3 L631 126.1 L635.4 123.5 L638 122.6 L640.6 120.4 L645 118.2 L648.5 115.1 L651.2 113.4 L653.8 111.5 L655.5 112.1 L657.3 115.1 L659 121.3 L660.8 129.2 L662.5 134.8 L663 135.6 L663 136.1 Z" fill="#cb5e37"/>
<line x1="569.2" y1="135.41" x2="569.2" y2="136.1" stroke="#fff" stroke-width="0.9" stroke-opacity="0.85"/>
<line x1="582.7" y1="134.96" x2="582.7" y2="136.1" stroke="#fff" stroke-width="0.9" stroke-opacity="0.85"/>
<line x1="596.2" y1="133.42" x2="596.2" y2="136.1" stroke="#fff" stroke-width="0.9" stroke-opacity="0.85"/>
<line x1="609.7" y1="132.22" x2="609.7" y2="136.1" stroke="#fff" stroke-width="0.9" stroke-opacity="0.85"/>
<line x1="623.2" y1="129.99" x2="623.2" y2="136.1" stroke="#fff" stroke-width="0.9" stroke-opacity="0.85"/>
<line x1="636.7" y1="123.05" x2="636.7" y2="136.1" stroke="#fff" stroke-width="0.9" stroke-opacity="0.85"/>
<line x1="650.2" y1="114.03" x2="650.2" y2="136.1" stroke="#fff" stroke-width="0.9" stroke-opacity="0.85"/>
<line x1="555.4" y1="77.7" x2="555.4" y2="136.1" stroke="#e0e0e0" stroke-width="0.9"/>
<line x1="555.4" y1="136.1" x2="663.5" y2="136.1" stroke="#e0e0e0" stroke-width="0.9"/>
<line x1="638.4" y1="77.7" x2="638.4" y2="136.1" stroke="#2e2e2e" stroke-width="1.0"/>
<text transform="translate(555.4 147.1) skewX(0.3) scale(0.9 1)" font-size="10.3" text-anchor="middle" font-weight="normal" fill="#111" stroke="#111" stroke-width="0.28">0.0</text>
<text transform="translate(577.02 147.1) skewX(0.3) scale(0.9 1)" font-size="10.3" text-anchor="middle" font-weight="normal" fill="#111" stroke="#111" stroke-width="0.28">0.2</text>
<text transform="translate(598.64 147.1) skewX(0.3) scale(0.9 1)" font-size="10.3" text-anchor="middle" font-weight="normal" fill="#111" stroke="#111" stroke-width="0.28">0.4</text>
<text transform="translate(620.26 147.1) skewX(0.3) scale(0.9 1)" font-size="10.3" text-anchor="middle" font-weight="normal" fill="#111" stroke="#111" stroke-width="0.28">0.6</text>
<text transform="translate(641.88 147.1) skewX(0.3) scale(0.9 1)" font-size="10.3" text-anchor="middle" font-weight="normal" fill="#111" stroke="#111" stroke-width="0.28">0.8</text>
<text transform="translate(663.5 147.1) skewX(0.3) scale(0.9 1)" font-size="10.3" text-anchor="middle" font-weight="normal" fill="#111" stroke="#111" stroke-width="0.28">1.0</text>
<text transform="translate(550.6 139.8) skewX(0.3) scale(0.9 1)" font-size="10.3" text-anchor="end" font-weight="normal" fill="#111" stroke="#111" stroke-width="0.28">0</text>
<text transform="translate(550.6 110.6) skewX(0.3) scale(0.9 1)" font-size="10.3" text-anchor="end" font-weight="normal" fill="#111" stroke="#111" stroke-width="0.28">5</text>
<text transform="translate(550.6 81.4) skewX(0.3) scale(0.9 1)" font-size="10.3" text-anchor="end" font-weight="normal" fill="#111" stroke="#111" stroke-width="0.28">10</text>
<text transform="translate(609.45 59.2) skewX(0.3) scale(0.89 1)" font-size="10.2" text-anchor="middle" font-weight="normal" fill="#111" stroke="#111" stroke-width="0.28">1 Isoform</text>
<line x1="415.56" y1="194.67" x2="415.56" y2="253.07" stroke="#f7f7f7" stroke-width="0.8"/>
<line x1="437.22" y1="194.67" x2="437.22" y2="253.07" stroke="#f7f7f7" stroke-width="0.8"/>
<line x1="458.88" y1="194.67" x2="458.88" y2="253.07" stroke="#f7f7f7" stroke-width="0.8"/>
<line x1="480.54" y1="194.67" x2="480.54" y2="253.07" stroke="#f7f7f7" stroke-width="0.8"/>
<line x1="502.2" y1="194.67" x2="502.2" y2="253.07" stroke="#f7f7f7" stroke-width="0.8"/>
<line x1="393.9" y1="223.87" x2="502.2" y2="223.87" stroke="#f7f7f7" stroke-width="0.8"/>
<line x1="393.9" y1="194.67" x2="502.2" y2="194.67" stroke="#f7f7f7" stroke-width="0.8"/>
<path d="M399.6 253.07 L399.6 252.6 L405.8 249.5 L411.9 247.3 L416.3 245.6 L421.5 243.7 L426.8 243 L442.5 242.8 L445 242.5 L448.5 242.1 L453.8 241 L457.3 241.2 L462.5 242.1 L467.8 243 L471.3 243.8 L473.9 246 L478.3 247.9 L483.5 248.8 L487 250 L491.4 251.1 L495.8 252 L499.3 252.6 L499.3 253.07 Z" fill="#cb5e37"/>
<line x1="406.2" y1="249.06" x2="406.2" y2="251.58" stroke="#fff" stroke-width="1" stroke-opacity="0.85"/>
<line x1="412.22" y1="246.88" x2="412.22" y2="250.71" stroke="#fff" stroke-width="1" stroke-opacity="0.85"/>
<line x1="418.24" y1="244.59" x2="418.24" y2="249.8" stroke="#fff" stroke-width="1" stroke-opacity="0.85"/>
<line x1="424.26" y1="243.04" x2="424.26" y2="248.34" stroke="#fff" stroke-width="1" stroke-opacity="0.85"/>
<line x1="430.28" y1="242.66" x2="430.28" y2="247.96" stroke="#fff" stroke-width="1" stroke-opacity="0.85"/>
<line x1="436.3" y1="242.58" x2="436.3" y2="247.88" stroke="#fff" stroke-width="1" stroke-opacity="0.85"/>
<line x1="442.32" y1="242.5" x2="442.32" y2="247.8" stroke="#fff" stroke-width="1" stroke-opacity="0.85"/>
<line x1="448.34" y1="241.82" x2="448.34" y2="247.12" stroke="#fff" stroke-width="1" stroke-opacity="0.85"/>
<line x1="454.36" y1="240.73" x2="454.36" y2="246.03" stroke="#fff" stroke-width="1" stroke-opacity="0.85"/>
<line x1="460.38" y1="241.43" x2="460.38" y2="246.73" stroke="#fff" stroke-width="1" stroke-opacity="0.85"/>
<line x1="466.4" y1="242.46" x2="466.4" y2="247.76" stroke="#fff" stroke-width="1" stroke-opacity="0.85"/>
<line x1="472.42" y1="244.45" x2="472.42" y2="249.74" stroke="#fff" stroke-width="1" stroke-opacity="0.85"/>
<line x1="478.44" y1="247.62" x2="478.44" y2="251.01" stroke="#fff" stroke-width="1" stroke-opacity="0.85"/>
<line x1="484.46" y1="248.83" x2="484.46" y2="251.49" stroke="#fff" stroke-width="1" stroke-opacity="0.85"/>
<line x1="490.48" y1="250.57" x2="490.48" y2="252.19" stroke="#fff" stroke-width="1" stroke-opacity="0.85"/>
<line x1="393.9" y1="194.67" x2="393.9" y2="253.07" stroke="#e0e0e0" stroke-width="0.9"/>
<line x1="393.9" y1="253.07" x2="502.2" y2="253.07" stroke="#e0e0e0" stroke-width="0.9"/>
<line x1="446.1" y1="194.67" x2="446.1" y2="253.07" stroke="#2e2e2e" stroke-width="1.0"/>
<text transform="translate(393.9 264.07) skewX(0.3) scale(0.9 1)" font-size="10.3" text-anchor="middle" font-weight="normal" fill="#111" stroke="#111" stroke-width="0.28">0.0</text>
<text transform="translate(415.56 264.07) skewX(0.3) scale(0.9 1)" font-size="10.3" text-anchor="middle" font-weight="normal" fill="#111" stroke="#111" stroke-width="0.28">0.2</text>
<text transform="translate(437.22 264.07) skewX(0.3) scale(0.9 1)" font-size="10.3" text-anchor="middle" font-weight="normal" fill="#111" stroke="#111" stroke-width="0.28">0.4</text>
<text transform="translate(458.88 264.07) skewX(0.3) scale(0.9 1)" font-size="10.3" text-anchor="middle" font-weight="normal" fill="#111" stroke="#111" stroke-width="0.28">0.6</text>
<text transform="translate(480.54 264.07) skewX(0.3) scale(0.9 1)" font-size="10.3" text-anchor="middle" font-weight="normal" fill="#111" stroke="#111" stroke-width="0.28">0.8</text>
<text transform="translate(502.2 264.07) skewX(0.3) scale(0.9 1)" font-size="10.3" text-anchor="middle" font-weight="normal" fill="#111" stroke="#111" stroke-width="0.28">1.0</text>
<text transform="translate(389.1 256.77) skewX(0.3) scale(0.9 1)" font-size="10.3" text-anchor="end" font-weight="normal" fill="#111" stroke="#111" stroke-width="0.28">0</text>
<text transform="translate(389.1 227.57) skewX(0.3) scale(0.9 1)" font-size="10.3" text-anchor="end" font-weight="normal" fill="#111" stroke="#111" stroke-width="0.28">5</text>
<text transform="translate(389.1 198.37) skewX(0.3) scale(0.9 1)" font-size="10.3" text-anchor="end" font-weight="normal" fill="#111" stroke="#111" stroke-width="0.28">10</text>
<text transform="translate(448.05 176.27) skewX(0.3) scale(0.89 1)" font-size="10.2" text-anchor="middle" font-weight="normal" fill="#111" stroke="#111" stroke-width="0.28">2 Isoforms</text>
<line x1="577.02" y1="194.67" x2="577.02" y2="253.07" stroke="#f7f7f7" stroke-width="0.8"/>
<line x1="598.64" y1="194.67" x2="598.64" y2="253.07" stroke="#f7f7f7" stroke-width="0.8"/>
<line x1="620.26" y1="194.67" x2="620.26" y2="253.07" stroke="#f7f7f7" stroke-width="0.8"/>
<line x1="641.88" y1="194.67" x2="641.88" y2="253.07" stroke="#f7f7f7" stroke-width="0.8"/>
<line x1="663.5" y1="194.67" x2="663.5" y2="253.07" stroke="#f7f7f7" stroke-width="0.8"/>
<line x1="555.4" y1="223.87" x2="663.5" y2="223.87" stroke="#f7f7f7" stroke-width="0.8"/>
<line x1="555.4" y1="194.67" x2="663.5" y2="194.67" stroke="#f7f7f7" stroke-width="0.8"/>
<path d="M568.1 253.07 L568.1 252.6 L576.9 252.2 L585.6 250.9 L594.4 249.9 L603.2 248.3 L610 247.4 L615.3 246.1 L617.9 244.3 L621.4 243 L624.9 242.1 L628.4 241.1 L631 240.4 L635.4 239.1 L638 237.9 L643.3 237.1 L648.5 236.5 L652.5 235.8 L654.7 237.3 L656.4 240.4 L658.6 244.8 L660.4 249.2 L662.1 252.6 L662.1 253.07 Z" fill="#cb5e37"/>
<line x1="583.2" y1="250.96" x2="583.2" y2="252.35" stroke="#fff" stroke-width="1" stroke-opacity="0.85"/>
<line x1="589.9" y1="250.11" x2="589.9" y2="252.01" stroke="#fff" stroke-width="1" stroke-opacity="0.85"/>
<line x1="596.6" y1="249.2" x2="596.6" y2="251.64" stroke="#fff" stroke-width="1" stroke-opacity="0.85"/>
<line x1="603.3" y1="247.99" x2="603.3" y2="251.16" stroke="#fff" stroke-width="1" stroke-opacity="0.85"/>
<line x1="610" y1="247.1" x2="610" y2="250.8" stroke="#fff" stroke-width="1" stroke-opacity="0.85"/>
<line x1="616.7" y1="244.83" x2="616.7" y2="249.89" stroke="#fff" stroke-width="1" stroke-opacity="0.85"/>
<line x1="623.4" y1="242.19" x2="623.4" y2="248.49" stroke="#fff" stroke-width="1" stroke-opacity="0.85"/>
<line x1="630.1" y1="240.34" x2="630.1" y2="246.64" stroke="#fff" stroke-width="1" stroke-opacity="0.85"/>
<line x1="636.8" y1="238.15" x2="636.8" y2="244.45" stroke="#fff" stroke-width="1" stroke-opacity="0.85"/>
<line x1="643.5" y1="236.78" x2="643.5" y2="243.08" stroke="#fff" stroke-width="1" stroke-opacity="0.85"/>
<line x1="650.2" y1="235.9" x2="650.2" y2="242.2" stroke="#fff" stroke-width="1" stroke-opacity="0.85"/>
<line x1="656.9" y1="241.1" x2="656.9" y2="247.4" stroke="#fff" stroke-width="1" stroke-opacity="0.85"/>
<line x1="555.4" y1="194.67" x2="555.4" y2="253.07" stroke="#e0e0e0" stroke-width="0.9"/>
<line x1="555.4" y1="253.07" x2="663.5" y2="253.07" stroke="#e0e0e0" stroke-width="0.9"/>
<line x1="632.3" y1="194.67" x2="632.3" y2="253.07" stroke="#2e2e2e" stroke-width="1.0"/>
<text transform="translate(555.4 264.07) skewX(0.3) scale(0.9 1)" font-size="10.3" text-anchor="middle" font-weight="normal" fill="#111" stroke="#111" stroke-width="0.28">0.0</text>
<text transform="translate(577.02 264.07) skewX(0.3) scale(0.9 1)" font-size="10.3" text-anchor="middle" font-weight="normal" fill="#111" stroke="#111" stroke-width="0.28">0.2</text>
<text transform="translate(598.64 264.07) skewX(0.3) scale(0.9 1)" font-size="10.3" text-anchor="middle" font-weight="normal" fill="#111" stroke="#111" stroke-width="0.28">0.4</text>
<text transform="translate(620.26 264.07) skewX(0.3) scale(0.9 1)" font-size="10.3" text-anchor="middle" font-weight="normal" fill="#111" stroke="#111" stroke-width="0.28">0.6</text>
<text transform="translate(641.88 264.07) skewX(0.3) scale(0.9 1)" font-size="10.3" text-anchor="middle" font-weight="normal" fill="#111" stroke="#111" stroke-width="0.28">0.8</text>
<text transform="translate(663.5 264.07) skewX(0.3) scale(0.9 1)" font-size="10.3" text-anchor="middle" font-weight="normal" fill="#111" stroke="#111" stroke-width="0.28">1.0</text>
<text transform="translate(550.6 256.77) skewX(0.3) scale(0.9 1)" font-size="10.3" text-anchor="end" font-weight="normal" fill="#111" stroke="#111" stroke-width="0.28">0</text>
<text transform="translate(550.6 227.57) skewX(0.3) scale(0.9 1)" font-size="10.3" text-anchor="end" font-weight="normal" fill="#111" stroke="#111" stroke-width="0.28">5</text>
<text transform="translate(550.6 198.37) skewX(0.3) scale(0.9 1)" font-size="10.3" text-anchor="end" font-weight="normal" fill="#111" stroke="#111" stroke-width="0.28">10</text>
<text transform="translate(609.45 176.27) skewX(0.3) scale(0.89 1)" font-size="10.2" text-anchor="middle" font-weight="normal" fill="#111" stroke="#111" stroke-width="0.28">2 Isoforms</text>
<line x1="415.56" y1="311.64" x2="415.56" y2="370.04" stroke="#f7f7f7" stroke-width="0.8"/>
<line x1="437.22" y1="311.64" x2="437.22" y2="370.04" stroke="#f7f7f7" stroke-width="0.8"/>
<line x1="458.88" y1="311.64" x2="458.88" y2="370.04" stroke="#f7f7f7" stroke-width="0.8"/>
<line x1="480.54" y1="311.64" x2="480.54" y2="370.04" stroke="#f7f7f7" stroke-width="0.8"/>
<line x1="502.2" y1="311.64" x2="502.2" y2="370.04" stroke="#f7f7f7" stroke-width="0.8"/>
<line x1="393.9" y1="340.84" x2="502.2" y2="340.84" stroke="#f7f7f7" stroke-width="0.8"/>
<line x1="393.9" y1="311.64" x2="502.2" y2="311.64" stroke="#f7f7f7" stroke-width="0.8"/>
<path d="M399.6 370.04 L399.6 369.6 L403.1 367.2 L405.8 365.7 L408.4 364.2 L411.9 362 L415.4 359.8 L418.9 358.2 L423.3 357.3 L426.8 356.4 L432 356.7 L435.5 356.7 L442.5 358 L450 358.5 L451.1 358.5 L455.5 360.2 L459.9 361.3 L463.4 363.1 L467.8 365.2 L472.1 366.3 L476.5 367.5 L481.8 368.1 L487 368.7 L493.2 369.4 L497 369.6 L497 370.04 Z" fill="#cb5e37"/>
<line x1="404" y1="366.4" x2="404" y2="368.7" stroke="#fff" stroke-width="1" stroke-opacity="0.75"/>
<line x1="407.7" y1="364.3" x2="407.7" y2="367.87" stroke="#fff" stroke-width="1" stroke-opacity="0.75"/>
<line x1="411.4" y1="362.01" x2="411.4" y2="365.81" stroke="#fff" stroke-width="1" stroke-opacity="0.75"/>
<line x1="415.1" y1="359.69" x2="415.1" y2="363.49" stroke="#fff" stroke-width="1" stroke-opacity="0.75"/>
<line x1="418.8" y1="357.95" x2="418.8" y2="361.75" stroke="#fff" stroke-width="1" stroke-opacity="0.75"/>
<line x1="422.5" y1="357.16" x2="422.5" y2="360.96" stroke="#fff" stroke-width="1" stroke-opacity="0.75"/>
<line x1="426.2" y1="356.25" x2="426.2" y2="360.05" stroke="#fff" stroke-width="1" stroke-opacity="0.75"/>
<line x1="429.9" y1="356.28" x2="429.9" y2="360.08" stroke="#fff" stroke-width="1" stroke-opacity="0.75"/>
<line x1="433.6" y1="356.4" x2="433.6" y2="360.2" stroke="#fff" stroke-width="1" stroke-opacity="0.75"/>
<line x1="437.3" y1="356.73" x2="437.3" y2="360.53" stroke="#fff" stroke-width="1" stroke-opacity="0.75"/>
<line x1="441" y1="357.42" x2="441" y2="361.22" stroke="#fff" stroke-width="1" stroke-opacity="0.75"/>
<line x1="444.7" y1="357.85" x2="444.7" y2="361.65" stroke="#fff" stroke-width="1" stroke-opacity="0.75"/>
<line x1="448.4" y1="358.09" x2="448.4" y2="361.89" stroke="#fff" stroke-width="1" stroke-opacity="0.75"/>
<line x1="452.1" y1="358.59" x2="452.1" y2="362.39" stroke="#fff" stroke-width="1" stroke-opacity="0.75"/>
<line x1="455.8" y1="359.97" x2="455.8" y2="363.77" stroke="#fff" stroke-width="1" stroke-opacity="0.75"/>
<line x1="459.5" y1="360.9" x2="459.5" y2="364.7" stroke="#fff" stroke-width="1" stroke-opacity="0.75"/>
<line x1="463.2" y1="362.7" x2="463.2" y2="366.5" stroke="#fff" stroke-width="1" stroke-opacity="0.75"/>
<line x1="466.9" y1="364.47" x2="466.9" y2="367.93" stroke="#fff" stroke-width="1" stroke-opacity="0.75"/>
<line x1="470.6" y1="365.62" x2="470.6" y2="368.39" stroke="#fff" stroke-width="1" stroke-opacity="0.75"/>
<line x1="474.3" y1="366.6" x2="474.3" y2="368.78" stroke="#fff" stroke-width="1" stroke-opacity="0.75"/>
<line x1="478" y1="367.37" x2="478" y2="369.09" stroke="#fff" stroke-width="1" stroke-opacity="0.75"/>
<line x1="481.7" y1="367.79" x2="481.7" y2="369.26" stroke="#fff" stroke-width="1" stroke-opacity="0.75"/>
<line x1="485.4" y1="368.22" x2="485.4" y2="369.43" stroke="#fff" stroke-width="1" stroke-opacity="0.75"/>
<line x1="393.9" y1="311.64" x2="393.9" y2="370.04" stroke="#e0e0e0" stroke-width="0.9"/>
<line x1="393.9" y1="370.04" x2="502.2" y2="370.04" stroke="#e0e0e0" stroke-width="0.9"/>
<line x1="438.4" y1="311.64" x2="438.4" y2="370.04" stroke="#2e2e2e" stroke-width="1.0"/>
<text transform="translate(393.9 381.04) skewX(0.3) scale(0.9 1)" font-size="10.3" text-anchor="middle" font-weight="normal" fill="#111" stroke="#111" stroke-width="0.28">0.0</text>
<text transform="translate(415.56 381.04) skewX(0.3) scale(0.9 1)" font-size="10.3" text-anchor="middle" font-weight="normal" fill="#111" stroke="#111" stroke-width="0.28">0.2</text>
<text transform="translate(437.22 381.04) skewX(0.3) scale(0.9 1)" font-size="10.3" text-anchor="middle" font-weight="normal" fill="#111" stroke="#111" stroke-width="0.28">0.4</text>
<text transform="translate(458.88 381.04) skewX(0.3) scale(0.9 1)" font-size="10.3" text-anchor="middle" font-weight="normal" fill="#111" stroke="#111" stroke-width="0.28">0.6</text>
<text transform="translate(480.54 381.04) skewX(0.3) scale(0.9 1)" font-size="10.3" text-anchor="middle" font-weight="normal" fill="#111" stroke="#111" stroke-width="0.28">0.8</text>
<text transform="translate(502.2 381.04) skewX(0.3) scale(0.9 1)" font-size="10.3" text-anchor="middle" font-weight="normal" fill="#111" stroke="#111" stroke-width="0.28">1.0</text>
<text transform="translate(389.1 373.74) skewX(0.3) scale(0.9 1)" font-size="10.3" text-anchor="end" font-weight="normal" fill="#111" stroke="#111" stroke-width="0.28">0</text>
<text transform="translate(389.1 344.54) skewX(0.3) scale(0.9 1)" font-size="10.3" text-anchor="end" font-weight="normal" fill="#111" stroke="#111" stroke-width="0.28">5</text>
<text transform="translate(389.1 315.34) skewX(0.3) scale(0.9 1)" font-size="10.3" text-anchor="end" font-weight="normal" fill="#111" stroke="#111" stroke-width="0.28">10</text>
<text transform="translate(448.05 293.74) skewX(0.3) scale(0.89 1)" font-size="10.2" text-anchor="middle" font-weight="normal" fill="#111" stroke="#111" stroke-width="0.28">3 Isoforms</text>
<line x1="577.02" y1="311.64" x2="577.02" y2="370.04" stroke="#f7f7f7" stroke-width="0.8"/>
<line x1="598.64" y1="311.64" x2="598.64" y2="370.04" stroke="#f7f7f7" stroke-width="0.8"/>
<line x1="620.26" y1="311.64" x2="620.26" y2="370.04" stroke="#f7f7f7" stroke-width="0.8"/>
<line x1="641.88" y1="311.64" x2="641.88" y2="370.04" stroke="#f7f7f7" stroke-width="0.8"/>
<line x1="663.5" y1="311.64" x2="663.5" y2="370.04" stroke="#f7f7f7" stroke-width="0.8"/>
<line x1="555.4" y1="340.84" x2="663.5" y2="340.84" stroke="#f7f7f7" stroke-width="0.8"/>
<line x1="555.4" y1="311.64" x2="663.5" y2="311.64" stroke="#f7f7f7" stroke-width="0.8"/>
<path d="M569.9 370.04 L569.9 369.6 L576.9 368.5 L581.3 367.8 L585.6 367.2 L590 366.1 L594.4 365 L598.8 364.2 L603.2 363.1 L607.5 361.5 L611.9 360.2 L615.3 359.3 L620.5 358.7 L624.9 357.6 L628.4 356.3 L632.8 356.3 L636.3 357.3 L639.8 358.5 L645 358.9 L648.5 358.2 L651.2 360.2 L653.8 362.8 L656.4 365.5 L659 368.1 L661.7 369.6 L661.7 370.04 Z" fill="#cb5e37"/>
<line x1="578.3" y1="367.98" x2="578.3" y2="369.33" stroke="#fff" stroke-width="1" stroke-opacity="0.75"/>
<line x1="582.6" y1="367.32" x2="582.6" y2="369.07" stroke="#fff" stroke-width="1" stroke-opacity="0.75"/>
<line x1="586.9" y1="366.58" x2="586.9" y2="368.77" stroke="#fff" stroke-width="1" stroke-opacity="0.75"/>
<line x1="591.2" y1="365.5" x2="591.2" y2="368.34" stroke="#fff" stroke-width="1" stroke-opacity="0.75"/>
<line x1="595.5" y1="364.5" x2="595.5" y2="367.94" stroke="#fff" stroke-width="1" stroke-opacity="0.75"/>
<line x1="599.8" y1="363.65" x2="599.8" y2="367.45" stroke="#fff" stroke-width="1" stroke-opacity="0.75"/>
<line x1="604.1" y1="362.47" x2="604.1" y2="366.27" stroke="#fff" stroke-width="1" stroke-opacity="0.75"/>
<line x1="608.4" y1="360.93" x2="608.4" y2="364.73" stroke="#fff" stroke-width="1" stroke-opacity="0.75"/>
<line x1="612.7" y1="359.69" x2="612.7" y2="363.49" stroke="#fff" stroke-width="1" stroke-opacity="0.75"/>
<line x1="617" y1="358.8" x2="617" y2="362.6" stroke="#fff" stroke-width="1" stroke-opacity="0.75"/>
<line x1="621.3" y1="358.2" x2="621.3" y2="362" stroke="#fff" stroke-width="1" stroke-opacity="0.75"/>
<line x1="625.6" y1="357.04" x2="625.6" y2="360.84" stroke="#fff" stroke-width="1" stroke-opacity="0.75"/>
<line x1="629.9" y1="356" x2="629.9" y2="359.8" stroke="#fff" stroke-width="1" stroke-opacity="0.75"/>
<line x1="634.2" y1="356.4" x2="634.2" y2="360.2" stroke="#fff" stroke-width="1" stroke-opacity="0.75"/>
<line x1="638.5" y1="357.75" x2="638.5" y2="361.55" stroke="#fff" stroke-width="1" stroke-opacity="0.75"/>
<line x1="642.8" y1="358.43" x2="642.8" y2="362.23" stroke="#fff" stroke-width="1" stroke-opacity="0.75"/>
<line x1="647.1" y1="358.18" x2="647.1" y2="361.98" stroke="#fff" stroke-width="1" stroke-opacity="0.75"/>
<line x1="651.4" y1="360.1" x2="651.4" y2="363.9" stroke="#fff" stroke-width="1" stroke-opacity="0.75"/>
<line x1="655.7" y1="364.47" x2="655.7" y2="367.93" stroke="#fff" stroke-width="1" stroke-opacity="0.75"/>
<line x1="555.4" y1="311.64" x2="555.4" y2="370.04" stroke="#e0e0e0" stroke-width="0.9"/>
<line x1="555.4" y1="370.04" x2="663.5" y2="370.04" stroke="#e0e0e0" stroke-width="0.9"/>
<line x1="625.1" y1="311.64" x2="625.1" y2="370.04" stroke="#2e2e2e" stroke-width="1.0"/>
<text transform="translate(555.4 381.04) skewX(0.3) scale(0.9 1)" font-size="10.3" text-anchor="middle" font-weight="normal" fill="#111" stroke="#111" stroke-width="0.28">0.0</text>
<text transform="translate(577.02 381.04) skewX(0.3) scale(0.9 1)" font-size="10.3" text-anchor="middle" font-weight="normal" fill="#111" stroke="#111" stroke-width="0.28">0.2</text>
<text transform="translate(598.64 381.04) skewX(0.3) scale(0.9 1)" font-size="10.3" text-anchor="middle" font-weight="normal" fill="#111" stroke="#111" stroke-width="0.28">0.4</text>
<text transform="translate(620.26 381.04) skewX(0.3) scale(0.9 1)" font-size="10.3" text-anchor="middle" font-weight="normal" fill="#111" stroke="#111" stroke-width="0.28">0.6</text>
<text transform="translate(641.88 381.04) skewX(0.3) scale(0.9 1)" font-size="10.3" text-anchor="middle" font-weight="normal" fill="#111" stroke="#111" stroke-width="0.28">0.8</text>
<text transform="translate(663.5 381.04) skewX(0.3) scale(0.9 1)" font-size="10.3" text-anchor="middle" font-weight="normal" fill="#111" stroke="#111" stroke-width="0.28">1.0</text>
<text transform="translate(550.6 373.74) skewX(0.3) scale(0.9 1)" font-size="10.3" text-anchor="end" font-weight="normal" fill="#111" stroke="#111" stroke-width="0.28">0</text>
<text transform="translate(550.6 344.54) skewX(0.3) scale(0.9 1)" font-size="10.3" text-anchor="end" font-weight="normal" fill="#111" stroke="#111" stroke-width="0.28">5</text>
<text transform="translate(550.6 315.34) skewX(0.3) scale(0.9 1)" font-size="10.3" text-anchor="end" font-weight="normal" fill="#111" stroke="#111" stroke-width="0.28">10</text>
<text transform="translate(609.45 293.74) skewX(0.3) scale(0.89 1)" font-size="10.2" text-anchor="middle" font-weight="normal" fill="#111" stroke="#111" stroke-width="0.28">3 Isoforms</text>
<line x1="415.56" y1="428.61" x2="415.56" y2="487.01" stroke="#f7f7f7" stroke-width="0.8"/>
<line x1="437.22" y1="428.61" x2="437.22" y2="487.01" stroke="#f7f7f7" stroke-width="0.8"/>
<line x1="458.88" y1="428.61" x2="458.88" y2="487.01" stroke="#f7f7f7" stroke-width="0.8"/>
<line x1="480.54" y1="428.61" x2="480.54" y2="487.01" stroke="#f7f7f7" stroke-width="0.8"/>
<line x1="502.2" y1="428.61" x2="502.2" y2="487.01" stroke="#f7f7f7" stroke-width="0.8"/>
<line x1="393.9" y1="457.81" x2="502.2" y2="457.81" stroke="#f7f7f7" stroke-width="0.8"/>
<line x1="393.9" y1="428.61" x2="502.2" y2="428.61" stroke="#f7f7f7" stroke-width="0.8"/>
<path d="M400.1 487.01 L400.1 486.6 L403.1 484 L405.8 480.9 L409.3 477.4 L412.8 474.3 L416.3 472.8 L420.6 471.1 L425 470.4 L428.5 470.8 L431.2 471.7 L435.5 473.2 L440.8 473.9 L444.3 475.2 L445 476.5 L448.5 477.8 L452 479.9 L455.5 481.3 L459 482.7 L462.5 483.7 L467.8 484.2 L471.3 484.8 L476.5 485.5 L484.4 486 L490.5 486.6 L490.5 487.01 Z" fill="#cb5e37"/>
<line x1="404" y1="482.67" x2="404" y2="485.39" stroke="#fff" stroke-width="1" stroke-opacity="0.75"/>
<line x1="407.6" y1="478.8" x2="407.6" y2="482.6" stroke="#fff" stroke-width="1" stroke-opacity="0.75"/>
<line x1="411.2" y1="475.42" x2="411.2" y2="479.22" stroke="#fff" stroke-width="1" stroke-opacity="0.75"/>
<line x1="414.8" y1="473.14" x2="414.8" y2="476.94" stroke="#fff" stroke-width="1" stroke-opacity="0.75"/>
<line x1="418.4" y1="471.67" x2="418.4" y2="475.47" stroke="#fff" stroke-width="1" stroke-opacity="0.75"/>
<line x1="422" y1="470.58" x2="422" y2="474.38" stroke="#fff" stroke-width="1" stroke-opacity="0.75"/>
<line x1="425.6" y1="470.17" x2="425.6" y2="473.97" stroke="#fff" stroke-width="1" stroke-opacity="0.75"/>
<line x1="429.2" y1="470.73" x2="429.2" y2="474.53" stroke="#fff" stroke-width="1" stroke-opacity="0.75"/>
<line x1="432.8" y1="471.96" x2="432.8" y2="475.76" stroke="#fff" stroke-width="1" stroke-opacity="0.75"/>
<line x1="436.4" y1="473.02" x2="436.4" y2="476.82" stroke="#fff" stroke-width="1" stroke-opacity="0.75"/>
<line x1="440" y1="473.49" x2="440" y2="477.29" stroke="#fff" stroke-width="1" stroke-opacity="0.75"/>
<line x1="443.6" y1="474.64" x2="443.6" y2="478.44" stroke="#fff" stroke-width="1" stroke-opacity="0.75"/>
<line x1="447.2" y1="477.02" x2="447.2" y2="480.82" stroke="#fff" stroke-width="1" stroke-opacity="0.75"/>
<line x1="450.8" y1="478.88" x2="450.8" y2="482.68" stroke="#fff" stroke-width="1" stroke-opacity="0.75"/>
<line x1="454.4" y1="480.56" x2="454.4" y2="484.36" stroke="#fff" stroke-width="1" stroke-opacity="0.75"/>
<line x1="458" y1="482" x2="458" y2="485.13" stroke="#fff" stroke-width="1" stroke-opacity="0.75"/>
<line x1="461.6" y1="483.14" x2="461.6" y2="485.58" stroke="#fff" stroke-width="1" stroke-opacity="0.75"/>
<line x1="465.2" y1="483.65" x2="465.2" y2="485.79" stroke="#fff" stroke-width="1" stroke-opacity="0.75"/>
<line x1="468.8" y1="484.07" x2="468.8" y2="485.95" stroke="#fff" stroke-width="1" stroke-opacity="0.75"/>
<line x1="472.4" y1="484.65" x2="472.4" y2="486.19" stroke="#fff" stroke-width="1" stroke-opacity="0.75"/>
<line x1="476" y1="485.13" x2="476" y2="486.38" stroke="#fff" stroke-width="1" stroke-opacity="0.75"/>
<line x1="393.9" y1="428.61" x2="393.9" y2="487.01" stroke="#e0e0e0" stroke-width="0.9"/>
<line x1="393.9" y1="487.01" x2="502.2" y2="487.01" stroke="#e0e0e0" stroke-width="0.9"/>
<line x1="432.2" y1="428.61" x2="432.2" y2="487.01" stroke="#2e2e2e" stroke-width="1.0"/>
<text transform="translate(393.9 498.01) skewX(0.3) scale(0.9 1)" font-size="10.3" text-anchor="middle" font-weight="normal" fill="#111" stroke="#111" stroke-width="0.28">0.0</text>
<text transform="translate(415.56 498.01) skewX(0.3) scale(0.9 1)" font-size="10.3" text-anchor="middle" font-weight="normal" fill="#111" stroke="#111" stroke-width="0.28">0.2</text>
<text transform="translate(437.22 498.01) skewX(0.3) scale(0.9 1)" font-size="10.3" text-anchor="middle" font-weight="normal" fill="#111" stroke="#111" stroke-width="0.28">0.4</text>
<text transform="translate(458.88 498.01) skewX(0.3) scale(0.9 1)" font-size="10.3" text-anchor="middle" font-weight="normal" fill="#111" stroke="#111" stroke-width="0.28">0.6</text>
<text transform="translate(480.54 498.01) skewX(0.3) scale(0.9 1)" font-size="10.3" text-anchor="middle" font-weight="normal" fill="#111" stroke="#111" stroke-width="0.28">0.8</text>
<text transform="translate(502.2 498.01) skewX(0.3) scale(0.9 1)" font-size="10.3" text-anchor="middle" font-weight="normal" fill="#111" stroke="#111" stroke-width="0.28">1.0</text>
<text transform="translate(389.1 490.71) skewX(0.3) scale(0.9 1)" font-size="10.3" text-anchor="end" font-weight="normal" fill="#111" stroke="#111" stroke-width="0.28">0</text>
<text transform="translate(389.1 461.51) skewX(0.3) scale(0.9 1)" font-size="10.3" text-anchor="end" font-weight="normal" fill="#111" stroke="#111" stroke-width="0.28">5</text>
<text transform="translate(389.1 432.31) skewX(0.3) scale(0.9 1)" font-size="10.3" text-anchor="end" font-weight="normal" fill="#111" stroke="#111" stroke-width="0.28">10</text>
<text transform="translate(448.05 410.71) skewX(0.3) scale(0.89 1)" font-size="10.2" text-anchor="middle" font-weight="normal" fill="#111" stroke="#111" stroke-width="0.28">4 Isoforms</text>
<line x1="577.02" y1="428.61" x2="577.02" y2="487.01" stroke="#f7f7f7" stroke-width="0.8"/>
<line x1="598.64" y1="428.61" x2="598.64" y2="487.01" stroke="#f7f7f7" stroke-width="0.8"/>
<line x1="620.26" y1="428.61" x2="620.26" y2="487.01" stroke="#f7f7f7" stroke-width="0.8"/>
<line x1="641.88" y1="428.61" x2="641.88" y2="487.01" stroke="#f7f7f7" stroke-width="0.8"/>
<line x1="663.5" y1="428.61" x2="663.5" y2="487.01" stroke="#f7f7f7" stroke-width="0.8"/>
<line x1="555.4" y1="457.81" x2="663.5" y2="457.81" stroke="#f7f7f7" stroke-width="0.8"/>
<line x1="555.4" y1="428.61" x2="663.5" y2="428.61" stroke="#f7f7f7" stroke-width="0.8"/>
<path d="M569 487.01 L569 486.6 L576.9 485.3 L581.3 484.2 L585.6 482.8 L590 481.1 L594.4 480 L598.8 478.3 L601.4 476.3 L605.8 475.5 L611 474.3 L614.4 473.2 L619.6 472.8 L624 473.2 L627.5 475.2 L631 476.5 L635.4 477.6 L639.8 478.3 L643.3 479.6 L647.7 482.2 L652 483.5 L655.5 484 L659 486.6 L659 487.01 Z" fill="#cb5e37"/>
<line x1="578" y1="484.72" x2="578" y2="486.22" stroke="#fff" stroke-width="1" stroke-opacity="0.75"/>
<line x1="582" y1="483.67" x2="582" y2="485.79" stroke="#fff" stroke-width="1" stroke-opacity="0.75"/>
<line x1="586" y1="482.35" x2="586" y2="485.26" stroke="#fff" stroke-width="1" stroke-opacity="0.75"/>
<line x1="590" y1="480.8" x2="590" y2="484.6" stroke="#fff" stroke-width="1" stroke-opacity="0.75"/>
<line x1="594" y1="479.8" x2="594" y2="483.6" stroke="#fff" stroke-width="1" stroke-opacity="0.75"/>
<line x1="598" y1="478.31" x2="598" y2="482.11" stroke="#fff" stroke-width="1" stroke-opacity="0.75"/>
<line x1="602" y1="475.89" x2="602" y2="479.69" stroke="#fff" stroke-width="1" stroke-opacity="0.75"/>
<line x1="606" y1="475.15" x2="606" y2="478.95" stroke="#fff" stroke-width="1" stroke-opacity="0.75"/>
<line x1="610" y1="474.23" x2="610" y2="478.03" stroke="#fff" stroke-width="1" stroke-opacity="0.75"/>
<line x1="614" y1="473.03" x2="614" y2="476.83" stroke="#fff" stroke-width="1" stroke-opacity="0.75"/>
<line x1="618" y1="472.62" x2="618" y2="476.42" stroke="#fff" stroke-width="1" stroke-opacity="0.75"/>
<line x1="622" y1="472.72" x2="622" y2="476.52" stroke="#fff" stroke-width="1" stroke-opacity="0.75"/>
<line x1="626" y1="474.04" x2="626" y2="477.84" stroke="#fff" stroke-width="1" stroke-opacity="0.75"/>
<line x1="630" y1="475.83" x2="630" y2="479.63" stroke="#fff" stroke-width="1" stroke-opacity="0.75"/>
<line x1="634" y1="476.95" x2="634" y2="480.75" stroke="#fff" stroke-width="1" stroke-opacity="0.75"/>
<line x1="638" y1="477.71" x2="638" y2="481.51" stroke="#fff" stroke-width="1" stroke-opacity="0.75"/>
<line x1="642" y1="478.82" x2="642" y2="482.62" stroke="#fff" stroke-width="1" stroke-opacity="0.75"/>
<line x1="646" y1="480.9" x2="646" y2="484.68" stroke="#fff" stroke-width="1" stroke-opacity="0.75"/>
<line x1="650" y1="482.6" x2="650" y2="485.36" stroke="#fff" stroke-width="1" stroke-opacity="0.75"/>
<line x1="654" y1="483.49" x2="654" y2="485.72" stroke="#fff" stroke-width="1" stroke-opacity="0.75"/>
<line x1="555.4" y1="428.61" x2="555.4" y2="487.01" stroke="#e0e0e0" stroke-width="0.9"/>
<line x1="555.4" y1="487.01" x2="663.5" y2="487.01" stroke="#e0e0e0" stroke-width="0.9"/>
<line x1="617.4" y1="428.61" x2="617.4" y2="487.01" stroke="#2e2e2e" stroke-width="1.0"/>
<text transform="translate(555.4 498.01) skewX(0.3) scale(0.9 1)" font-size="10.3" text-anchor="middle" font-weight="normal" fill="#111" stroke="#111" stroke-width="0.28">0.0</text>
<text transform="translate(577.02 498.01) skewX(0.3) scale(0.9 1)" font-size="10.3" text-anchor="middle" font-weight="normal" fill="#111" stroke="#111" stroke-width="0.28">0.2</text>
<text transform="translate(598.64 498.01) skewX(0.3) scale(0.9 1)" font-size="10.3" text-anchor="middle" font-weight="normal" fill="#111" stroke="#111" stroke-width="0.28">0.4</text>
<text transform="translate(620.26 498.01) skewX(0.3) scale(0.9 1)" font-size="10.3" text-anchor="middle" font-weight="normal" fill="#111" stroke="#111" stroke-width="0.28">0.6</text>
<text transform="translate(641.88 498.01) skewX(0.3) scale(0.9 1)" font-size="10.3" text-anchor="middle" font-weight="normal" fill="#111" stroke="#111" stroke-width="0.28">0.8</text>
<text transform="translate(663.5 498.01) skewX(0.3) scale(0.9 1)" font-size="10.3" text-anchor="middle" font-weight="normal" fill="#111" stroke="#111" stroke-width="0.28">1.0</text>
<text transform="translate(550.6 490.71) skewX(0.3) scale(0.9 1)" font-size="10.3" text-anchor="end" font-weight="normal" fill="#111" stroke="#111" stroke-width="0.28">0</text>
<text transform="translate(550.6 461.51) skewX(0.3) scale(0.9 1)" font-size="10.3" text-anchor="end" font-weight="normal" fill="#111" stroke="#111" stroke-width="0.28">5</text>
<text transform="translate(550.6 432.31) skewX(0.3) scale(0.9 1)" font-size="10.3" text-anchor="end" font-weight="normal" fill="#111" stroke="#111" stroke-width="0.28">10</text>
<text transform="translate(609.45 410.71) skewX(0.3) scale(0.89 1)" font-size="10.2" text-anchor="middle" font-weight="normal" fill="#111" stroke="#111" stroke-width="0.28">4 Isoforms</text>
<text transform="translate(9.9 25.3) skewX(0.3)" font-size="20.4" text-anchor="start" font-weight="normal" fill="#111">A</text>
<text transform="translate(352.6 25.2) skewX(0.3)" font-size="20.4" text-anchor="start" font-weight="normal" fill="#111">B</text>
<text transform="translate(50.3 37.1) skewX(0.3)" font-size="13.2" text-anchor="start" font-weight="bold" textLength="130.8" lengthAdjust="spacingAndGlyphs" fill="#000" stroke="#000" stroke-width="0.28">1 million reads/cell</text>
<text transform="translate(199.9 37.1) skewX(0.3)" font-size="13.2" text-anchor="start" font-weight="bold" textLength="131" lengthAdjust="spacingAndGlyphs" fill="#000" stroke="#000" stroke-width="0.28">4 million reads/cell</text>
<text transform="translate(388.6 37.1) skewX(0.3)" font-size="13.2" text-anchor="start" font-weight="bold" textLength="131" lengthAdjust="spacingAndGlyphs" fill="#000" stroke="#000" stroke-width="0.28">1 million reads/cell</text>
<text transform="translate(544.3 37.1) skewX(0.3)" font-size="13.2" text-anchor="start" font-weight="bold" textLength="131.6" lengthAdjust="spacingAndGlyphs" fill="#000" stroke="#000" stroke-width="0.28">4 million reads/cell</text>
<text transform="translate(19.8 273.6) rotate(-90) skewX(0.3)" font-size="9.9" text-anchor="middle" font-weight="normal" textLength="75" lengthAdjust="spacingAndGlyphs" fill="#111" stroke="#111" stroke-width="0.28">Probability Density</text>
<text transform="translate(366.8 251.1) rotate(-90) skewX(0.3)" font-size="9.9" text-anchor="middle" font-weight="normal" textLength="75" lengthAdjust="spacingAndGlyphs" fill="#111" stroke="#111" stroke-width="0.28">Probability Density</text>
<text transform="translate(110.5 505.5) skewX(0.3)" font-size="10.2" text-anchor="middle" font-weight="normal" textLength="76.9" lengthAdjust="spacingAndGlyphs" fill="#111" stroke="#111" stroke-width="0.28">Mean No. Isoforms</text>
<text transform="translate(110.5 521.5) skewX(0.3)" font-size="10.2" text-anchor="middle" font-weight="normal" textLength="72.5" lengthAdjust="spacingAndGlyphs" fill="#111" stroke="#111" stroke-width="0.28">per Gene per Cell</text>
<text transform="translate(264 505.5) skewX(0.3)" font-size="10.2" text-anchor="middle" font-weight="normal" textLength="76.9" lengthAdjust="spacingAndGlyphs" fill="#111" stroke="#111" stroke-width="0.28">Mean No. Isoforms</text>
<text transform="translate(264 521.5) skewX(0.3)" font-size="10.2" text-anchor="middle" font-weight="normal" textLength="72.5" lengthAdjust="spacingAndGlyphs" fill="#111" stroke="#111" stroke-width="0.28">per Gene per Cell</text>
<text transform="translate(453.5 521.7) skewX(0.3)" font-size="10.2" text-anchor="middle" font-weight="normal" textLength="107.2" lengthAdjust="spacingAndGlyphs" fill="#111" stroke="#111" stroke-width="0.28">Overlap with Ground Truth</text>
<text transform="translate(614.9 521.7) skewX(0.3)" font-size="10.2" text-anchor="middle" font-weight="normal" textLength="107.2" lengthAdjust="spacingAndGlyphs" fill="#111" stroke="#111" stroke-width="0.28">Overlap with Ground Truth</text>
<rect x="0.5" y="0.5" width="684" height="534" fill="none" stroke="#1c1c1c" stroke-width="1.2"/>
<line x1="342.5" y1="0" x2="342.5" y2="535" stroke="#1c1c1c" stroke-width="1.1"/>
</svg></body></html>
